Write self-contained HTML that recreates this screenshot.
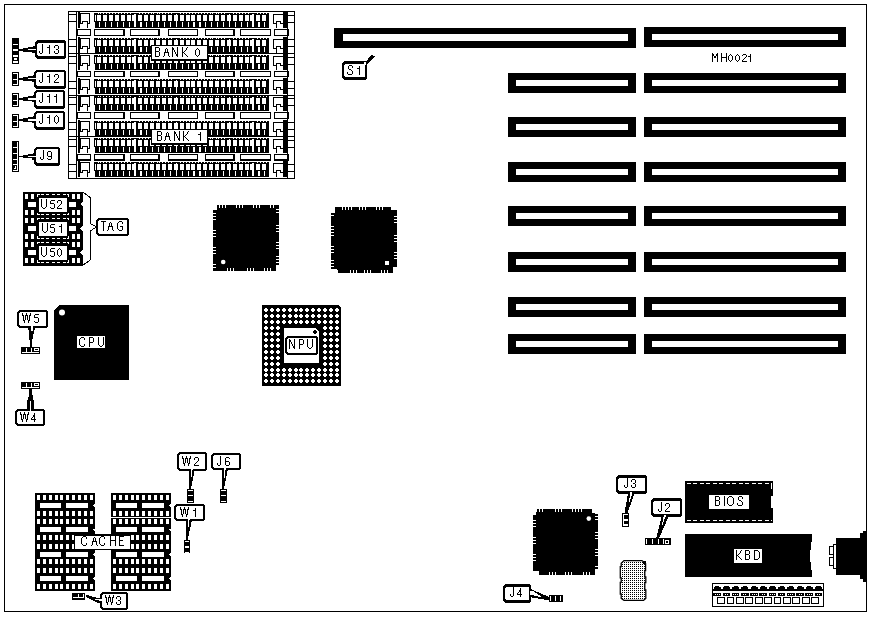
<!DOCTYPE html>
<html><head><meta charset="utf-8"><style>
html,body{margin:0;padding:0;background:#fff;}
svg{display:block;shape-rendering:crispEdges;}
text{font-family:"Liberation Sans",sans-serif;fill:#000;}
</style></head><body>
<svg width="870" height="617" viewBox="0 0 870 617">
<rect x="0" y="0" width="870" height="617" fill="#fff"/>
<rect x="68" y="11" width="227" height="1" fill="#000"/>
<rect x="68" y="178" width="227" height="1" fill="#000"/>
<rect x="68" y="11" width="1" height="168" fill="#000"/>
<rect x="294" y="11" width="1" height="168" fill="#000"/>
<rect x="76" y="11" width="1" height="167" fill="#000"/>
<rect x="287" y="11" width="1" height="167" fill="#000"/>
<rect x="68" y="14" width="8" height="1" fill="#000"/>
<rect x="68" y="21" width="8" height="1" fill="#000"/>
<rect x="68" y="39" width="8" height="1" fill="#000"/>
<rect x="68" y="46" width="8" height="1" fill="#000"/>
<rect x="68" y="53" width="8" height="1" fill="#000"/>
<rect x="287" y="15" width="8" height="1" fill="#000"/>
<rect x="287" y="22" width="8" height="1" fill="#000"/>
<rect x="287" y="39" width="8" height="1" fill="#000"/>
<rect x="287" y="46" width="8" height="1" fill="#000"/>
<rect x="287" y="53" width="8" height="1" fill="#000"/>
<rect x="77" y="53" width="210" height="1" fill="#000"/>
<rect x="78" y="12" width="2.4" height="16" fill="#000"/>
<rect x="283" y="12" width="3.6" height="16" fill="#000"/>
<rect x="80" y="13" width="10" height="1" fill="#000"/>
<rect x="80" y="13" width="1" height="10.5" fill="#000"/>
<rect x="89" y="13" width="1" height="10.5" fill="#000"/>
<rect x="80" y="22.6" width="3" height="1" fill="#000"/>
<rect x="87" y="22.6" width="3" height="1" fill="#000"/>
<rect x="82" y="20.8" width="6" height="1" fill="#000"/>
<rect x="82" y="20.8" width="1" height="2.8" fill="#000"/>
<rect x="87" y="20.8" width="1" height="7" fill="#000"/>
<rect x="273" y="13.8" width="10" height="1" fill="#000"/>
<rect x="273" y="13.8" width="1" height="10" fill="#000"/>
<rect x="273" y="22.8" width="4" height="1" fill="#000"/>
<rect x="276" y="20.8" width="5" height="1" fill="#000"/>
<rect x="276" y="20.8" width="1" height="7" fill="#000"/>
<rect x="280" y="20.8" width="1" height="3" fill="#000"/>
<rect x="280" y="22.8" width="3" height="1" fill="#000"/>
<rect x="94" y="13" width="175" height="14.6" fill="#000"/>
<rect x="97" y="15" width="4" height="6" fill="#fff"/>
<rect x="99" y="22" width="1.2" height="4.5" fill="#fff"/>
<rect x="97.5" y="13" width="1" height="1" fill="#fff"/>
<rect x="100.3" y="13" width="1" height="1" fill="#fff"/>
<rect x="102.9" y="15" width="4" height="6" fill="#fff"/>
<rect x="104.9" y="22" width="1.2" height="4.5" fill="#fff"/>
<rect x="103.4" y="13" width="1" height="1" fill="#fff"/>
<rect x="106.2" y="13" width="1" height="1" fill="#fff"/>
<rect x="108.8" y="15" width="4" height="6" fill="#fff"/>
<rect x="110.8" y="22" width="1.2" height="4.5" fill="#fff"/>
<rect x="109.3" y="13" width="1" height="1" fill="#fff"/>
<rect x="112.1" y="13" width="1" height="1" fill="#fff"/>
<rect x="114.7" y="15" width="4" height="6" fill="#fff"/>
<rect x="116.7" y="22" width="1.2" height="4.5" fill="#fff"/>
<rect x="115.2" y="13" width="1" height="1" fill="#fff"/>
<rect x="118" y="13" width="1" height="1" fill="#fff"/>
<rect x="120.6" y="15" width="4" height="6" fill="#fff"/>
<rect x="122.6" y="22" width="1.2" height="4.5" fill="#fff"/>
<rect x="121.1" y="13" width="1" height="1" fill="#fff"/>
<rect x="123.9" y="13" width="1" height="1" fill="#fff"/>
<rect x="126.5" y="15" width="4" height="6" fill="#fff"/>
<rect x="128.5" y="22" width="1.2" height="4.5" fill="#fff"/>
<rect x="127" y="13" width="1" height="1" fill="#fff"/>
<rect x="129.8" y="13" width="1" height="1" fill="#fff"/>
<rect x="132.4" y="15" width="4" height="6" fill="#fff"/>
<rect x="134.4" y="22" width="1.2" height="4.5" fill="#fff"/>
<rect x="134.4" y="14" width="1.2" height="1" fill="#fff"/>
<rect x="134.4" y="21" width="1.2" height="1" fill="#fff"/>
<rect x="138.3" y="15" width="4" height="6" fill="#fff"/>
<rect x="140.3" y="22" width="1.2" height="4.5" fill="#fff"/>
<rect x="138.8" y="13" width="1" height="1" fill="#fff"/>
<rect x="141.6" y="13" width="1" height="1" fill="#fff"/>
<rect x="144.2" y="15" width="4" height="6" fill="#fff"/>
<rect x="146.2" y="22" width="1.2" height="4.5" fill="#fff"/>
<rect x="144.7" y="13" width="1" height="1" fill="#fff"/>
<rect x="147.5" y="13" width="1" height="1" fill="#fff"/>
<rect x="150.1" y="15" width="4" height="6" fill="#fff"/>
<rect x="152.1" y="22" width="1.2" height="4.5" fill="#fff"/>
<rect x="150.6" y="13" width="1" height="1" fill="#fff"/>
<rect x="153.4" y="13" width="1" height="1" fill="#fff"/>
<rect x="156" y="15" width="4" height="6" fill="#fff"/>
<rect x="158" y="22" width="1.2" height="4.5" fill="#fff"/>
<rect x="156.5" y="13" width="1" height="1" fill="#fff"/>
<rect x="159.3" y="13" width="1" height="1" fill="#fff"/>
<rect x="161.9" y="15" width="4" height="6" fill="#fff"/>
<rect x="163.9" y="22" width="1.2" height="4.5" fill="#fff"/>
<rect x="162.4" y="13" width="1" height="1" fill="#fff"/>
<rect x="165.2" y="13" width="1" height="1" fill="#fff"/>
<rect x="167.8" y="15" width="4" height="6" fill="#fff"/>
<rect x="169.8" y="22" width="1.2" height="4.5" fill="#fff"/>
<rect x="168.3" y="13" width="1" height="1" fill="#fff"/>
<rect x="171.1" y="13" width="1" height="1" fill="#fff"/>
<rect x="173.7" y="15" width="4" height="6" fill="#fff"/>
<rect x="175.7" y="22" width="1.2" height="4.5" fill="#fff"/>
<rect x="175.7" y="14" width="1.2" height="1" fill="#fff"/>
<rect x="175.7" y="21" width="1.2" height="1" fill="#fff"/>
<rect x="179.6" y="15" width="4" height="6" fill="#fff"/>
<rect x="181.6" y="22" width="1.2" height="4.5" fill="#fff"/>
<rect x="180.1" y="13" width="1" height="1" fill="#fff"/>
<rect x="182.9" y="13" width="1" height="1" fill="#fff"/>
<rect x="185.5" y="15" width="4" height="6" fill="#fff"/>
<rect x="187.5" y="22" width="1.2" height="4.5" fill="#fff"/>
<rect x="186" y="13" width="1" height="1" fill="#fff"/>
<rect x="188.8" y="13" width="1" height="1" fill="#fff"/>
<rect x="191.4" y="15" width="4" height="6" fill="#fff"/>
<rect x="193.4" y="22" width="1.2" height="4.5" fill="#fff"/>
<rect x="191.9" y="13" width="1" height="1" fill="#fff"/>
<rect x="194.7" y="13" width="1" height="1" fill="#fff"/>
<rect x="197.3" y="15" width="4" height="6" fill="#fff"/>
<rect x="199.3" y="22" width="1.2" height="4.5" fill="#fff"/>
<rect x="197.8" y="13" width="1" height="1" fill="#fff"/>
<rect x="200.6" y="13" width="1" height="1" fill="#fff"/>
<rect x="203.2" y="15" width="4" height="6" fill="#fff"/>
<rect x="205.2" y="22" width="1.2" height="4.5" fill="#fff"/>
<rect x="203.7" y="13" width="1" height="1" fill="#fff"/>
<rect x="206.5" y="13" width="1" height="1" fill="#fff"/>
<rect x="209.1" y="15" width="4" height="6" fill="#fff"/>
<rect x="211.1" y="22" width="1.2" height="4.5" fill="#fff"/>
<rect x="209.6" y="13" width="1" height="1" fill="#fff"/>
<rect x="212.4" y="13" width="1" height="1" fill="#fff"/>
<rect x="215" y="15" width="4" height="6" fill="#fff"/>
<rect x="217" y="22" width="1.2" height="4.5" fill="#fff"/>
<rect x="215.5" y="13" width="1" height="1" fill="#fff"/>
<rect x="218.3" y="13" width="1" height="1" fill="#fff"/>
<rect x="220.9" y="15" width="4" height="6" fill="#fff"/>
<rect x="222.9" y="22" width="1.2" height="4.5" fill="#fff"/>
<rect x="221.4" y="13" width="1" height="1" fill="#fff"/>
<rect x="224.2" y="13" width="1" height="1" fill="#fff"/>
<rect x="226.8" y="15" width="4" height="6" fill="#fff"/>
<rect x="228.8" y="22" width="1.2" height="4.5" fill="#fff"/>
<rect x="228.8" y="14" width="1.2" height="1" fill="#fff"/>
<rect x="228.8" y="21" width="1.2" height="1" fill="#fff"/>
<rect x="232.7" y="15" width="4" height="6" fill="#fff"/>
<rect x="234.7" y="22" width="1.2" height="4.5" fill="#fff"/>
<rect x="233.2" y="13" width="1" height="1" fill="#fff"/>
<rect x="236" y="13" width="1" height="1" fill="#fff"/>
<rect x="238.6" y="15" width="4" height="6" fill="#fff"/>
<rect x="240.6" y="22" width="1.2" height="4.5" fill="#fff"/>
<rect x="239.1" y="13" width="1" height="1" fill="#fff"/>
<rect x="241.9" y="13" width="1" height="1" fill="#fff"/>
<rect x="244.5" y="15" width="4" height="6" fill="#fff"/>
<rect x="246.5" y="22" width="1.2" height="4.5" fill="#fff"/>
<rect x="245" y="13" width="1" height="1" fill="#fff"/>
<rect x="247.8" y="13" width="1" height="1" fill="#fff"/>
<rect x="250.4" y="15" width="4" height="6" fill="#fff"/>
<rect x="252.4" y="22" width="1.2" height="4.5" fill="#fff"/>
<rect x="252.4" y="14" width="1.2" height="1" fill="#fff"/>
<rect x="252.4" y="21" width="1.2" height="1" fill="#fff"/>
<rect x="256.3" y="15" width="4" height="6" fill="#fff"/>
<rect x="258.3" y="22" width="1.2" height="4.5" fill="#fff"/>
<rect x="256.8" y="13" width="1" height="1" fill="#fff"/>
<rect x="259.6" y="13" width="1" height="1" fill="#fff"/>
<rect x="262.2" y="15" width="4" height="6" fill="#fff"/>
<rect x="264.2" y="22" width="1.2" height="4.5" fill="#fff"/>
<rect x="262.7" y="13" width="1" height="1" fill="#fff"/>
<rect x="265.5" y="13" width="1" height="1" fill="#fff"/>
<rect x="95" y="15" width="1" height="6" fill="#fff"/>
<rect x="94" y="21.6" width="1" height="6" fill="#fff"/>
<rect x="78" y="37" width="2.4" height="16" fill="#000"/>
<rect x="283" y="37" width="3.6" height="16" fill="#000"/>
<rect x="80" y="38" width="10" height="1" fill="#000"/>
<rect x="80" y="38" width="1" height="10.5" fill="#000"/>
<rect x="89" y="38" width="1" height="10.5" fill="#000"/>
<rect x="80" y="47.6" width="3" height="1" fill="#000"/>
<rect x="87" y="47.6" width="3" height="1" fill="#000"/>
<rect x="82" y="45.8" width="6" height="1" fill="#000"/>
<rect x="82" y="45.8" width="1" height="2.8" fill="#000"/>
<rect x="87" y="45.8" width="1" height="7" fill="#000"/>
<rect x="273" y="38.8" width="10" height="1" fill="#000"/>
<rect x="273" y="38.8" width="1" height="10" fill="#000"/>
<rect x="273" y="47.8" width="4" height="1" fill="#000"/>
<rect x="276" y="45.8" width="5" height="1" fill="#000"/>
<rect x="276" y="45.8" width="1" height="7" fill="#000"/>
<rect x="280" y="45.8" width="1" height="3" fill="#000"/>
<rect x="280" y="47.8" width="3" height="1" fill="#000"/>
<rect x="94" y="38" width="175" height="14.6" fill="#000"/>
<rect x="97" y="40" width="4" height="6" fill="#fff"/>
<rect x="99" y="47" width="1.2" height="4.5" fill="#fff"/>
<rect x="97.5" y="38" width="1" height="1" fill="#fff"/>
<rect x="100.3" y="38" width="1" height="1" fill="#fff"/>
<rect x="102.9" y="40" width="4" height="6" fill="#fff"/>
<rect x="104.9" y="47" width="1.2" height="4.5" fill="#fff"/>
<rect x="103.4" y="38" width="1" height="1" fill="#fff"/>
<rect x="106.2" y="38" width="1" height="1" fill="#fff"/>
<rect x="108.8" y="40" width="4" height="6" fill="#fff"/>
<rect x="110.8" y="47" width="1.2" height="4.5" fill="#fff"/>
<rect x="109.3" y="38" width="1" height="1" fill="#fff"/>
<rect x="112.1" y="38" width="1" height="1" fill="#fff"/>
<rect x="114.7" y="40" width="4" height="6" fill="#fff"/>
<rect x="116.7" y="47" width="1.2" height="4.5" fill="#fff"/>
<rect x="115.2" y="38" width="1" height="1" fill="#fff"/>
<rect x="118" y="38" width="1" height="1" fill="#fff"/>
<rect x="120.6" y="40" width="4" height="6" fill="#fff"/>
<rect x="122.6" y="47" width="1.2" height="4.5" fill="#fff"/>
<rect x="121.1" y="38" width="1" height="1" fill="#fff"/>
<rect x="123.9" y="38" width="1" height="1" fill="#fff"/>
<rect x="126.5" y="40" width="4" height="6" fill="#fff"/>
<rect x="128.5" y="47" width="1.2" height="4.5" fill="#fff"/>
<rect x="127" y="38" width="1" height="1" fill="#fff"/>
<rect x="129.8" y="38" width="1" height="1" fill="#fff"/>
<rect x="132.4" y="40" width="4" height="6" fill="#fff"/>
<rect x="134.4" y="47" width="1.2" height="4.5" fill="#fff"/>
<rect x="134.4" y="39" width="1.2" height="1" fill="#fff"/>
<rect x="134.4" y="46" width="1.2" height="1" fill="#fff"/>
<rect x="138.3" y="40" width="4" height="6" fill="#fff"/>
<rect x="140.3" y="47" width="1.2" height="4.5" fill="#fff"/>
<rect x="138.8" y="38" width="1" height="1" fill="#fff"/>
<rect x="141.6" y="38" width="1" height="1" fill="#fff"/>
<rect x="144.2" y="40" width="4" height="6" fill="#fff"/>
<rect x="146.2" y="47" width="1.2" height="4.5" fill="#fff"/>
<rect x="144.7" y="38" width="1" height="1" fill="#fff"/>
<rect x="147.5" y="38" width="1" height="1" fill="#fff"/>
<rect x="150.1" y="40" width="4" height="6" fill="#fff"/>
<rect x="152.1" y="47" width="1.2" height="4.5" fill="#fff"/>
<rect x="150.6" y="38" width="1" height="1" fill="#fff"/>
<rect x="153.4" y="38" width="1" height="1" fill="#fff"/>
<rect x="156" y="40" width="4" height="6" fill="#fff"/>
<rect x="158" y="47" width="1.2" height="4.5" fill="#fff"/>
<rect x="156.5" y="38" width="1" height="1" fill="#fff"/>
<rect x="159.3" y="38" width="1" height="1" fill="#fff"/>
<rect x="161.9" y="40" width="4" height="6" fill="#fff"/>
<rect x="163.9" y="47" width="1.2" height="4.5" fill="#fff"/>
<rect x="162.4" y="38" width="1" height="1" fill="#fff"/>
<rect x="165.2" y="38" width="1" height="1" fill="#fff"/>
<rect x="167.8" y="40" width="4" height="6" fill="#fff"/>
<rect x="169.8" y="47" width="1.2" height="4.5" fill="#fff"/>
<rect x="168.3" y="38" width="1" height="1" fill="#fff"/>
<rect x="171.1" y="38" width="1" height="1" fill="#fff"/>
<rect x="173.7" y="40" width="4" height="6" fill="#fff"/>
<rect x="175.7" y="47" width="1.2" height="4.5" fill="#fff"/>
<rect x="175.7" y="39" width="1.2" height="1" fill="#fff"/>
<rect x="175.7" y="46" width="1.2" height="1" fill="#fff"/>
<rect x="179.6" y="40" width="4" height="6" fill="#fff"/>
<rect x="181.6" y="47" width="1.2" height="4.5" fill="#fff"/>
<rect x="180.1" y="38" width="1" height="1" fill="#fff"/>
<rect x="182.9" y="38" width="1" height="1" fill="#fff"/>
<rect x="185.5" y="40" width="4" height="6" fill="#fff"/>
<rect x="187.5" y="47" width="1.2" height="4.5" fill="#fff"/>
<rect x="186" y="38" width="1" height="1" fill="#fff"/>
<rect x="188.8" y="38" width="1" height="1" fill="#fff"/>
<rect x="191.4" y="40" width="4" height="6" fill="#fff"/>
<rect x="193.4" y="47" width="1.2" height="4.5" fill="#fff"/>
<rect x="191.9" y="38" width="1" height="1" fill="#fff"/>
<rect x="194.7" y="38" width="1" height="1" fill="#fff"/>
<rect x="197.3" y="40" width="4" height="6" fill="#fff"/>
<rect x="199.3" y="47" width="1.2" height="4.5" fill="#fff"/>
<rect x="197.8" y="38" width="1" height="1" fill="#fff"/>
<rect x="200.6" y="38" width="1" height="1" fill="#fff"/>
<rect x="203.2" y="40" width="4" height="6" fill="#fff"/>
<rect x="205.2" y="47" width="1.2" height="4.5" fill="#fff"/>
<rect x="203.7" y="38" width="1" height="1" fill="#fff"/>
<rect x="206.5" y="38" width="1" height="1" fill="#fff"/>
<rect x="209.1" y="40" width="4" height="6" fill="#fff"/>
<rect x="211.1" y="47" width="1.2" height="4.5" fill="#fff"/>
<rect x="209.6" y="38" width="1" height="1" fill="#fff"/>
<rect x="212.4" y="38" width="1" height="1" fill="#fff"/>
<rect x="215" y="40" width="4" height="6" fill="#fff"/>
<rect x="217" y="47" width="1.2" height="4.5" fill="#fff"/>
<rect x="215.5" y="38" width="1" height="1" fill="#fff"/>
<rect x="218.3" y="38" width="1" height="1" fill="#fff"/>
<rect x="220.9" y="40" width="4" height="6" fill="#fff"/>
<rect x="222.9" y="47" width="1.2" height="4.5" fill="#fff"/>
<rect x="221.4" y="38" width="1" height="1" fill="#fff"/>
<rect x="224.2" y="38" width="1" height="1" fill="#fff"/>
<rect x="226.8" y="40" width="4" height="6" fill="#fff"/>
<rect x="228.8" y="47" width="1.2" height="4.5" fill="#fff"/>
<rect x="228.8" y="39" width="1.2" height="1" fill="#fff"/>
<rect x="228.8" y="46" width="1.2" height="1" fill="#fff"/>
<rect x="232.7" y="40" width="4" height="6" fill="#fff"/>
<rect x="234.7" y="47" width="1.2" height="4.5" fill="#fff"/>
<rect x="233.2" y="38" width="1" height="1" fill="#fff"/>
<rect x="236" y="38" width="1" height="1" fill="#fff"/>
<rect x="238.6" y="40" width="4" height="6" fill="#fff"/>
<rect x="240.6" y="47" width="1.2" height="4.5" fill="#fff"/>
<rect x="239.1" y="38" width="1" height="1" fill="#fff"/>
<rect x="241.9" y="38" width="1" height="1" fill="#fff"/>
<rect x="244.5" y="40" width="4" height="6" fill="#fff"/>
<rect x="246.5" y="47" width="1.2" height="4.5" fill="#fff"/>
<rect x="245" y="38" width="1" height="1" fill="#fff"/>
<rect x="247.8" y="38" width="1" height="1" fill="#fff"/>
<rect x="250.4" y="40" width="4" height="6" fill="#fff"/>
<rect x="252.4" y="47" width="1.2" height="4.5" fill="#fff"/>
<rect x="252.4" y="39" width="1.2" height="1" fill="#fff"/>
<rect x="252.4" y="46" width="1.2" height="1" fill="#fff"/>
<rect x="256.3" y="40" width="4" height="6" fill="#fff"/>
<rect x="258.3" y="47" width="1.2" height="4.5" fill="#fff"/>
<rect x="256.8" y="38" width="1" height="1" fill="#fff"/>
<rect x="259.6" y="38" width="1" height="1" fill="#fff"/>
<rect x="262.2" y="40" width="4" height="6" fill="#fff"/>
<rect x="264.2" y="47" width="1.2" height="4.5" fill="#fff"/>
<rect x="262.7" y="38" width="1" height="1" fill="#fff"/>
<rect x="265.5" y="38" width="1" height="1" fill="#fff"/>
<rect x="95" y="40" width="1" height="6" fill="#fff"/>
<rect x="94" y="46.6" width="1" height="6" fill="#fff"/>
<rect x="76.5" y="29" width="14.3" height="6.8" fill="#000"/>
<rect x="77.7" y="30.2" width="11.9" height="4.4" fill="#fff"/>
<rect x="274" y="29" width="14.6" height="6.8" fill="#000"/>
<rect x="275.2" y="30.2" width="12.2" height="4.4" fill="#fff"/>
<rect x="94" y="29" width="30.5" height="6.8" fill="#000"/>
<rect x="95.2" y="30.2" width="28.1" height="4.4" fill="#fff"/>
<rect x="129.5" y="29" width="30" height="6.8" fill="#000"/>
<rect x="130.7" y="30.2" width="27.6" height="4.4" fill="#fff"/>
<rect x="168" y="29" width="30" height="6.8" fill="#000"/>
<rect x="169.2" y="30.2" width="27.6" height="4.4" fill="#fff"/>
<rect x="204.5" y="29" width="30" height="6.8" fill="#000"/>
<rect x="205.7" y="30.2" width="27.6" height="4.4" fill="#fff"/>
<rect x="240" y="29" width="31" height="6.8" fill="#000"/>
<rect x="241.2" y="30.2" width="28.6" height="4.4" fill="#fff"/>
<rect x="68" y="55.6" width="8" height="1" fill="#000"/>
<rect x="68" y="62.6" width="8" height="1" fill="#000"/>
<rect x="68" y="80.6" width="8" height="1" fill="#000"/>
<rect x="68" y="87.6" width="8" height="1" fill="#000"/>
<rect x="68" y="94.6" width="8" height="1" fill="#000"/>
<rect x="287" y="56.6" width="8" height="1" fill="#000"/>
<rect x="287" y="63.6" width="8" height="1" fill="#000"/>
<rect x="287" y="80.6" width="8" height="1" fill="#000"/>
<rect x="287" y="87.6" width="8" height="1" fill="#000"/>
<rect x="287" y="94.6" width="8" height="1" fill="#000"/>
<rect x="77" y="95" width="210" height="1" fill="#000"/>
<rect x="78" y="54" width="2.4" height="16" fill="#000"/>
<rect x="283" y="54" width="3.6" height="16" fill="#000"/>
<rect x="80" y="55" width="10" height="1" fill="#000"/>
<rect x="80" y="55" width="1" height="10.5" fill="#000"/>
<rect x="89" y="55" width="1" height="10.5" fill="#000"/>
<rect x="80" y="64.6" width="3" height="1" fill="#000"/>
<rect x="87" y="64.6" width="3" height="1" fill="#000"/>
<rect x="82" y="62.8" width="6" height="1" fill="#000"/>
<rect x="82" y="62.8" width="1" height="2.8" fill="#000"/>
<rect x="87" y="62.8" width="1" height="7" fill="#000"/>
<rect x="273" y="55.8" width="10" height="1" fill="#000"/>
<rect x="273" y="55.8" width="1" height="10" fill="#000"/>
<rect x="273" y="64.8" width="4" height="1" fill="#000"/>
<rect x="276" y="62.8" width="5" height="1" fill="#000"/>
<rect x="276" y="62.8" width="1" height="7" fill="#000"/>
<rect x="280" y="62.8" width="1" height="3" fill="#000"/>
<rect x="280" y="64.8" width="3" height="1" fill="#000"/>
<rect x="94" y="55" width="175" height="14.6" fill="#000"/>
<rect x="97" y="57" width="4" height="6" fill="#fff"/>
<rect x="99" y="64" width="1.2" height="4.5" fill="#fff"/>
<rect x="97.5" y="55" width="1" height="1" fill="#fff"/>
<rect x="100.3" y="55" width="1" height="1" fill="#fff"/>
<rect x="102.9" y="57" width="4" height="6" fill="#fff"/>
<rect x="104.9" y="64" width="1.2" height="4.5" fill="#fff"/>
<rect x="103.4" y="55" width="1" height="1" fill="#fff"/>
<rect x="106.2" y="55" width="1" height="1" fill="#fff"/>
<rect x="108.8" y="57" width="4" height="6" fill="#fff"/>
<rect x="110.8" y="64" width="1.2" height="4.5" fill="#fff"/>
<rect x="109.3" y="55" width="1" height="1" fill="#fff"/>
<rect x="112.1" y="55" width="1" height="1" fill="#fff"/>
<rect x="114.7" y="57" width="4" height="6" fill="#fff"/>
<rect x="116.7" y="64" width="1.2" height="4.5" fill="#fff"/>
<rect x="115.2" y="55" width="1" height="1" fill="#fff"/>
<rect x="118" y="55" width="1" height="1" fill="#fff"/>
<rect x="120.6" y="57" width="4" height="6" fill="#fff"/>
<rect x="122.6" y="64" width="1.2" height="4.5" fill="#fff"/>
<rect x="121.1" y="55" width="1" height="1" fill="#fff"/>
<rect x="123.9" y="55" width="1" height="1" fill="#fff"/>
<rect x="126.5" y="57" width="4" height="6" fill="#fff"/>
<rect x="128.5" y="64" width="1.2" height="4.5" fill="#fff"/>
<rect x="127" y="55" width="1" height="1" fill="#fff"/>
<rect x="129.8" y="55" width="1" height="1" fill="#fff"/>
<rect x="132.4" y="57" width="4" height="6" fill="#fff"/>
<rect x="134.4" y="64" width="1.2" height="4.5" fill="#fff"/>
<rect x="134.4" y="56" width="1.2" height="1" fill="#fff"/>
<rect x="134.4" y="63" width="1.2" height="1" fill="#fff"/>
<rect x="138.3" y="57" width="4" height="6" fill="#fff"/>
<rect x="140.3" y="64" width="1.2" height="4.5" fill="#fff"/>
<rect x="138.8" y="55" width="1" height="1" fill="#fff"/>
<rect x="141.6" y="55" width="1" height="1" fill="#fff"/>
<rect x="144.2" y="57" width="4" height="6" fill="#fff"/>
<rect x="146.2" y="64" width="1.2" height="4.5" fill="#fff"/>
<rect x="144.7" y="55" width="1" height="1" fill="#fff"/>
<rect x="147.5" y="55" width="1" height="1" fill="#fff"/>
<rect x="150.1" y="57" width="4" height="6" fill="#fff"/>
<rect x="152.1" y="64" width="1.2" height="4.5" fill="#fff"/>
<rect x="150.6" y="55" width="1" height="1" fill="#fff"/>
<rect x="153.4" y="55" width="1" height="1" fill="#fff"/>
<rect x="156" y="57" width="4" height="6" fill="#fff"/>
<rect x="158" y="64" width="1.2" height="4.5" fill="#fff"/>
<rect x="156.5" y="55" width="1" height="1" fill="#fff"/>
<rect x="159.3" y="55" width="1" height="1" fill="#fff"/>
<rect x="161.9" y="57" width="4" height="6" fill="#fff"/>
<rect x="163.9" y="64" width="1.2" height="4.5" fill="#fff"/>
<rect x="162.4" y="55" width="1" height="1" fill="#fff"/>
<rect x="165.2" y="55" width="1" height="1" fill="#fff"/>
<rect x="167.8" y="57" width="4" height="6" fill="#fff"/>
<rect x="169.8" y="64" width="1.2" height="4.5" fill="#fff"/>
<rect x="168.3" y="55" width="1" height="1" fill="#fff"/>
<rect x="171.1" y="55" width="1" height="1" fill="#fff"/>
<rect x="173.7" y="57" width="4" height="6" fill="#fff"/>
<rect x="175.7" y="64" width="1.2" height="4.5" fill="#fff"/>
<rect x="175.7" y="56" width="1.2" height="1" fill="#fff"/>
<rect x="175.7" y="63" width="1.2" height="1" fill="#fff"/>
<rect x="179.6" y="57" width="4" height="6" fill="#fff"/>
<rect x="181.6" y="64" width="1.2" height="4.5" fill="#fff"/>
<rect x="180.1" y="55" width="1" height="1" fill="#fff"/>
<rect x="182.9" y="55" width="1" height="1" fill="#fff"/>
<rect x="185.5" y="57" width="4" height="6" fill="#fff"/>
<rect x="187.5" y="64" width="1.2" height="4.5" fill="#fff"/>
<rect x="186" y="55" width="1" height="1" fill="#fff"/>
<rect x="188.8" y="55" width="1" height="1" fill="#fff"/>
<rect x="191.4" y="57" width="4" height="6" fill="#fff"/>
<rect x="193.4" y="64" width="1.2" height="4.5" fill="#fff"/>
<rect x="191.9" y="55" width="1" height="1" fill="#fff"/>
<rect x="194.7" y="55" width="1" height="1" fill="#fff"/>
<rect x="197.3" y="57" width="4" height="6" fill="#fff"/>
<rect x="199.3" y="64" width="1.2" height="4.5" fill="#fff"/>
<rect x="197.8" y="55" width="1" height="1" fill="#fff"/>
<rect x="200.6" y="55" width="1" height="1" fill="#fff"/>
<rect x="203.2" y="57" width="4" height="6" fill="#fff"/>
<rect x="205.2" y="64" width="1.2" height="4.5" fill="#fff"/>
<rect x="203.7" y="55" width="1" height="1" fill="#fff"/>
<rect x="206.5" y="55" width="1" height="1" fill="#fff"/>
<rect x="209.1" y="57" width="4" height="6" fill="#fff"/>
<rect x="211.1" y="64" width="1.2" height="4.5" fill="#fff"/>
<rect x="209.6" y="55" width="1" height="1" fill="#fff"/>
<rect x="212.4" y="55" width="1" height="1" fill="#fff"/>
<rect x="215" y="57" width="4" height="6" fill="#fff"/>
<rect x="217" y="64" width="1.2" height="4.5" fill="#fff"/>
<rect x="215.5" y="55" width="1" height="1" fill="#fff"/>
<rect x="218.3" y="55" width="1" height="1" fill="#fff"/>
<rect x="220.9" y="57" width="4" height="6" fill="#fff"/>
<rect x="222.9" y="64" width="1.2" height="4.5" fill="#fff"/>
<rect x="221.4" y="55" width="1" height="1" fill="#fff"/>
<rect x="224.2" y="55" width="1" height="1" fill="#fff"/>
<rect x="226.8" y="57" width="4" height="6" fill="#fff"/>
<rect x="228.8" y="64" width="1.2" height="4.5" fill="#fff"/>
<rect x="228.8" y="56" width="1.2" height="1" fill="#fff"/>
<rect x="228.8" y="63" width="1.2" height="1" fill="#fff"/>
<rect x="232.7" y="57" width="4" height="6" fill="#fff"/>
<rect x="234.7" y="64" width="1.2" height="4.5" fill="#fff"/>
<rect x="233.2" y="55" width="1" height="1" fill="#fff"/>
<rect x="236" y="55" width="1" height="1" fill="#fff"/>
<rect x="238.6" y="57" width="4" height="6" fill="#fff"/>
<rect x="240.6" y="64" width="1.2" height="4.5" fill="#fff"/>
<rect x="239.1" y="55" width="1" height="1" fill="#fff"/>
<rect x="241.9" y="55" width="1" height="1" fill="#fff"/>
<rect x="244.5" y="57" width="4" height="6" fill="#fff"/>
<rect x="246.5" y="64" width="1.2" height="4.5" fill="#fff"/>
<rect x="245" y="55" width="1" height="1" fill="#fff"/>
<rect x="247.8" y="55" width="1" height="1" fill="#fff"/>
<rect x="250.4" y="57" width="4" height="6" fill="#fff"/>
<rect x="252.4" y="64" width="1.2" height="4.5" fill="#fff"/>
<rect x="252.4" y="56" width="1.2" height="1" fill="#fff"/>
<rect x="252.4" y="63" width="1.2" height="1" fill="#fff"/>
<rect x="256.3" y="57" width="4" height="6" fill="#fff"/>
<rect x="258.3" y="64" width="1.2" height="4.5" fill="#fff"/>
<rect x="256.8" y="55" width="1" height="1" fill="#fff"/>
<rect x="259.6" y="55" width="1" height="1" fill="#fff"/>
<rect x="262.2" y="57" width="4" height="6" fill="#fff"/>
<rect x="264.2" y="64" width="1.2" height="4.5" fill="#fff"/>
<rect x="262.7" y="55" width="1" height="1" fill="#fff"/>
<rect x="265.5" y="55" width="1" height="1" fill="#fff"/>
<rect x="95" y="57" width="1" height="6" fill="#fff"/>
<rect x="94" y="63.6" width="1" height="6" fill="#fff"/>
<rect x="78" y="78" width="2.4" height="16" fill="#000"/>
<rect x="283" y="78" width="3.6" height="16" fill="#000"/>
<rect x="80" y="79" width="10" height="1" fill="#000"/>
<rect x="80" y="79" width="1" height="10.5" fill="#000"/>
<rect x="89" y="79" width="1" height="10.5" fill="#000"/>
<rect x="80" y="88.6" width="3" height="1" fill="#000"/>
<rect x="87" y="88.6" width="3" height="1" fill="#000"/>
<rect x="82" y="86.8" width="6" height="1" fill="#000"/>
<rect x="82" y="86.8" width="1" height="2.8" fill="#000"/>
<rect x="87" y="86.8" width="1" height="7" fill="#000"/>
<rect x="273" y="79.8" width="10" height="1" fill="#000"/>
<rect x="273" y="79.8" width="1" height="10" fill="#000"/>
<rect x="273" y="88.8" width="4" height="1" fill="#000"/>
<rect x="276" y="86.8" width="5" height="1" fill="#000"/>
<rect x="276" y="86.8" width="1" height="7" fill="#000"/>
<rect x="280" y="86.8" width="1" height="3" fill="#000"/>
<rect x="280" y="88.8" width="3" height="1" fill="#000"/>
<rect x="94" y="79" width="175" height="14.6" fill="#000"/>
<rect x="97" y="81" width="4" height="6" fill="#fff"/>
<rect x="99" y="88" width="1.2" height="4.5" fill="#fff"/>
<rect x="97.5" y="79" width="1" height="1" fill="#fff"/>
<rect x="100.3" y="79" width="1" height="1" fill="#fff"/>
<rect x="102.9" y="81" width="4" height="6" fill="#fff"/>
<rect x="104.9" y="88" width="1.2" height="4.5" fill="#fff"/>
<rect x="103.4" y="79" width="1" height="1" fill="#fff"/>
<rect x="106.2" y="79" width="1" height="1" fill="#fff"/>
<rect x="108.8" y="81" width="4" height="6" fill="#fff"/>
<rect x="110.8" y="88" width="1.2" height="4.5" fill="#fff"/>
<rect x="109.3" y="79" width="1" height="1" fill="#fff"/>
<rect x="112.1" y="79" width="1" height="1" fill="#fff"/>
<rect x="114.7" y="81" width="4" height="6" fill="#fff"/>
<rect x="116.7" y="88" width="1.2" height="4.5" fill="#fff"/>
<rect x="115.2" y="79" width="1" height="1" fill="#fff"/>
<rect x="118" y="79" width="1" height="1" fill="#fff"/>
<rect x="120.6" y="81" width="4" height="6" fill="#fff"/>
<rect x="122.6" y="88" width="1.2" height="4.5" fill="#fff"/>
<rect x="121.1" y="79" width="1" height="1" fill="#fff"/>
<rect x="123.9" y="79" width="1" height="1" fill="#fff"/>
<rect x="126.5" y="81" width="4" height="6" fill="#fff"/>
<rect x="128.5" y="88" width="1.2" height="4.5" fill="#fff"/>
<rect x="127" y="79" width="1" height="1" fill="#fff"/>
<rect x="129.8" y="79" width="1" height="1" fill="#fff"/>
<rect x="132.4" y="81" width="4" height="6" fill="#fff"/>
<rect x="134.4" y="88" width="1.2" height="4.5" fill="#fff"/>
<rect x="134.4" y="80" width="1.2" height="1" fill="#fff"/>
<rect x="134.4" y="87" width="1.2" height="1" fill="#fff"/>
<rect x="138.3" y="81" width="4" height="6" fill="#fff"/>
<rect x="140.3" y="88" width="1.2" height="4.5" fill="#fff"/>
<rect x="138.8" y="79" width="1" height="1" fill="#fff"/>
<rect x="141.6" y="79" width="1" height="1" fill="#fff"/>
<rect x="144.2" y="81" width="4" height="6" fill="#fff"/>
<rect x="146.2" y="88" width="1.2" height="4.5" fill="#fff"/>
<rect x="144.7" y="79" width="1" height="1" fill="#fff"/>
<rect x="147.5" y="79" width="1" height="1" fill="#fff"/>
<rect x="150.1" y="81" width="4" height="6" fill="#fff"/>
<rect x="152.1" y="88" width="1.2" height="4.5" fill="#fff"/>
<rect x="150.6" y="79" width="1" height="1" fill="#fff"/>
<rect x="153.4" y="79" width="1" height="1" fill="#fff"/>
<rect x="156" y="81" width="4" height="6" fill="#fff"/>
<rect x="158" y="88" width="1.2" height="4.5" fill="#fff"/>
<rect x="156.5" y="79" width="1" height="1" fill="#fff"/>
<rect x="159.3" y="79" width="1" height="1" fill="#fff"/>
<rect x="161.9" y="81" width="4" height="6" fill="#fff"/>
<rect x="163.9" y="88" width="1.2" height="4.5" fill="#fff"/>
<rect x="162.4" y="79" width="1" height="1" fill="#fff"/>
<rect x="165.2" y="79" width="1" height="1" fill="#fff"/>
<rect x="167.8" y="81" width="4" height="6" fill="#fff"/>
<rect x="169.8" y="88" width="1.2" height="4.5" fill="#fff"/>
<rect x="168.3" y="79" width="1" height="1" fill="#fff"/>
<rect x="171.1" y="79" width="1" height="1" fill="#fff"/>
<rect x="173.7" y="81" width="4" height="6" fill="#fff"/>
<rect x="175.7" y="88" width="1.2" height="4.5" fill="#fff"/>
<rect x="175.7" y="80" width="1.2" height="1" fill="#fff"/>
<rect x="175.7" y="87" width="1.2" height="1" fill="#fff"/>
<rect x="179.6" y="81" width="4" height="6" fill="#fff"/>
<rect x="181.6" y="88" width="1.2" height="4.5" fill="#fff"/>
<rect x="180.1" y="79" width="1" height="1" fill="#fff"/>
<rect x="182.9" y="79" width="1" height="1" fill="#fff"/>
<rect x="185.5" y="81" width="4" height="6" fill="#fff"/>
<rect x="187.5" y="88" width="1.2" height="4.5" fill="#fff"/>
<rect x="186" y="79" width="1" height="1" fill="#fff"/>
<rect x="188.8" y="79" width="1" height="1" fill="#fff"/>
<rect x="191.4" y="81" width="4" height="6" fill="#fff"/>
<rect x="193.4" y="88" width="1.2" height="4.5" fill="#fff"/>
<rect x="191.9" y="79" width="1" height="1" fill="#fff"/>
<rect x="194.7" y="79" width="1" height="1" fill="#fff"/>
<rect x="197.3" y="81" width="4" height="6" fill="#fff"/>
<rect x="199.3" y="88" width="1.2" height="4.5" fill="#fff"/>
<rect x="197.8" y="79" width="1" height="1" fill="#fff"/>
<rect x="200.6" y="79" width="1" height="1" fill="#fff"/>
<rect x="203.2" y="81" width="4" height="6" fill="#fff"/>
<rect x="205.2" y="88" width="1.2" height="4.5" fill="#fff"/>
<rect x="203.7" y="79" width="1" height="1" fill="#fff"/>
<rect x="206.5" y="79" width="1" height="1" fill="#fff"/>
<rect x="209.1" y="81" width="4" height="6" fill="#fff"/>
<rect x="211.1" y="88" width="1.2" height="4.5" fill="#fff"/>
<rect x="209.6" y="79" width="1" height="1" fill="#fff"/>
<rect x="212.4" y="79" width="1" height="1" fill="#fff"/>
<rect x="215" y="81" width="4" height="6" fill="#fff"/>
<rect x="217" y="88" width="1.2" height="4.5" fill="#fff"/>
<rect x="215.5" y="79" width="1" height="1" fill="#fff"/>
<rect x="218.3" y="79" width="1" height="1" fill="#fff"/>
<rect x="220.9" y="81" width="4" height="6" fill="#fff"/>
<rect x="222.9" y="88" width="1.2" height="4.5" fill="#fff"/>
<rect x="221.4" y="79" width="1" height="1" fill="#fff"/>
<rect x="224.2" y="79" width="1" height="1" fill="#fff"/>
<rect x="226.8" y="81" width="4" height="6" fill="#fff"/>
<rect x="228.8" y="88" width="1.2" height="4.5" fill="#fff"/>
<rect x="228.8" y="80" width="1.2" height="1" fill="#fff"/>
<rect x="228.8" y="87" width="1.2" height="1" fill="#fff"/>
<rect x="232.7" y="81" width="4" height="6" fill="#fff"/>
<rect x="234.7" y="88" width="1.2" height="4.5" fill="#fff"/>
<rect x="233.2" y="79" width="1" height="1" fill="#fff"/>
<rect x="236" y="79" width="1" height="1" fill="#fff"/>
<rect x="238.6" y="81" width="4" height="6" fill="#fff"/>
<rect x="240.6" y="88" width="1.2" height="4.5" fill="#fff"/>
<rect x="239.1" y="79" width="1" height="1" fill="#fff"/>
<rect x="241.9" y="79" width="1" height="1" fill="#fff"/>
<rect x="244.5" y="81" width="4" height="6" fill="#fff"/>
<rect x="246.5" y="88" width="1.2" height="4.5" fill="#fff"/>
<rect x="245" y="79" width="1" height="1" fill="#fff"/>
<rect x="247.8" y="79" width="1" height="1" fill="#fff"/>
<rect x="250.4" y="81" width="4" height="6" fill="#fff"/>
<rect x="252.4" y="88" width="1.2" height="4.5" fill="#fff"/>
<rect x="252.4" y="80" width="1.2" height="1" fill="#fff"/>
<rect x="252.4" y="87" width="1.2" height="1" fill="#fff"/>
<rect x="256.3" y="81" width="4" height="6" fill="#fff"/>
<rect x="258.3" y="88" width="1.2" height="4.5" fill="#fff"/>
<rect x="256.8" y="79" width="1" height="1" fill="#fff"/>
<rect x="259.6" y="79" width="1" height="1" fill="#fff"/>
<rect x="262.2" y="81" width="4" height="6" fill="#fff"/>
<rect x="264.2" y="88" width="1.2" height="4.5" fill="#fff"/>
<rect x="262.7" y="79" width="1" height="1" fill="#fff"/>
<rect x="265.5" y="79" width="1" height="1" fill="#fff"/>
<rect x="95" y="81" width="1" height="6" fill="#fff"/>
<rect x="94" y="87.6" width="1" height="6" fill="#fff"/>
<rect x="76.5" y="70.6" width="14.3" height="6.8" fill="#000"/>
<rect x="77.7" y="71.8" width="11.9" height="4.4" fill="#fff"/>
<rect x="274" y="70.6" width="14.6" height="6.8" fill="#000"/>
<rect x="275.2" y="71.8" width="12.2" height="4.4" fill="#fff"/>
<rect x="94" y="70.6" width="30.5" height="6.8" fill="#000"/>
<rect x="95.2" y="71.8" width="28.1" height="4.4" fill="#fff"/>
<rect x="129.5" y="70.6" width="30" height="6.8" fill="#000"/>
<rect x="130.7" y="71.8" width="27.6" height="4.4" fill="#fff"/>
<rect x="168" y="70.6" width="30" height="6.8" fill="#000"/>
<rect x="169.2" y="71.8" width="27.6" height="4.4" fill="#fff"/>
<rect x="204.5" y="70.6" width="30" height="6.8" fill="#000"/>
<rect x="205.7" y="71.8" width="27.6" height="4.4" fill="#fff"/>
<rect x="240" y="70.6" width="31" height="6.8" fill="#000"/>
<rect x="241.2" y="71.8" width="28.6" height="4.4" fill="#fff"/>
<rect x="68" y="97.2" width="8" height="1" fill="#000"/>
<rect x="68" y="104.2" width="8" height="1" fill="#000"/>
<rect x="68" y="122.2" width="8" height="1" fill="#000"/>
<rect x="68" y="129.2" width="8" height="1" fill="#000"/>
<rect x="68" y="136.2" width="8" height="1" fill="#000"/>
<rect x="287" y="98.2" width="8" height="1" fill="#000"/>
<rect x="287" y="105.2" width="8" height="1" fill="#000"/>
<rect x="287" y="122.2" width="8" height="1" fill="#000"/>
<rect x="287" y="129.2" width="8" height="1" fill="#000"/>
<rect x="287" y="136.2" width="8" height="1" fill="#000"/>
<rect x="77" y="136" width="210" height="1" fill="#000"/>
<rect x="78" y="95" width="2.4" height="16" fill="#000"/>
<rect x="283" y="95" width="3.6" height="16" fill="#000"/>
<rect x="80" y="96" width="10" height="1" fill="#000"/>
<rect x="80" y="96" width="1" height="10.5" fill="#000"/>
<rect x="89" y="96" width="1" height="10.5" fill="#000"/>
<rect x="80" y="105.6" width="3" height="1" fill="#000"/>
<rect x="87" y="105.6" width="3" height="1" fill="#000"/>
<rect x="82" y="103.8" width="6" height="1" fill="#000"/>
<rect x="82" y="103.8" width="1" height="2.8" fill="#000"/>
<rect x="87" y="103.8" width="1" height="7" fill="#000"/>
<rect x="273" y="96.8" width="10" height="1" fill="#000"/>
<rect x="273" y="96.8" width="1" height="10" fill="#000"/>
<rect x="273" y="105.8" width="4" height="1" fill="#000"/>
<rect x="276" y="103.8" width="5" height="1" fill="#000"/>
<rect x="276" y="103.8" width="1" height="7" fill="#000"/>
<rect x="280" y="103.8" width="1" height="3" fill="#000"/>
<rect x="280" y="105.8" width="3" height="1" fill="#000"/>
<rect x="94" y="96" width="175" height="14.6" fill="#000"/>
<rect x="97" y="98" width="4" height="6" fill="#fff"/>
<rect x="99" y="105" width="1.2" height="4.5" fill="#fff"/>
<rect x="97.5" y="96" width="1" height="1" fill="#fff"/>
<rect x="100.3" y="96" width="1" height="1" fill="#fff"/>
<rect x="102.9" y="98" width="4" height="6" fill="#fff"/>
<rect x="104.9" y="105" width="1.2" height="4.5" fill="#fff"/>
<rect x="103.4" y="96" width="1" height="1" fill="#fff"/>
<rect x="106.2" y="96" width="1" height="1" fill="#fff"/>
<rect x="108.8" y="98" width="4" height="6" fill="#fff"/>
<rect x="110.8" y="105" width="1.2" height="4.5" fill="#fff"/>
<rect x="109.3" y="96" width="1" height="1" fill="#fff"/>
<rect x="112.1" y="96" width="1" height="1" fill="#fff"/>
<rect x="114.7" y="98" width="4" height="6" fill="#fff"/>
<rect x="116.7" y="105" width="1.2" height="4.5" fill="#fff"/>
<rect x="115.2" y="96" width="1" height="1" fill="#fff"/>
<rect x="118" y="96" width="1" height="1" fill="#fff"/>
<rect x="120.6" y="98" width="4" height="6" fill="#fff"/>
<rect x="122.6" y="105" width="1.2" height="4.5" fill="#fff"/>
<rect x="121.1" y="96" width="1" height="1" fill="#fff"/>
<rect x="123.9" y="96" width="1" height="1" fill="#fff"/>
<rect x="126.5" y="98" width="4" height="6" fill="#fff"/>
<rect x="128.5" y="105" width="1.2" height="4.5" fill="#fff"/>
<rect x="127" y="96" width="1" height="1" fill="#fff"/>
<rect x="129.8" y="96" width="1" height="1" fill="#fff"/>
<rect x="132.4" y="98" width="4" height="6" fill="#fff"/>
<rect x="134.4" y="105" width="1.2" height="4.5" fill="#fff"/>
<rect x="134.4" y="97" width="1.2" height="1" fill="#fff"/>
<rect x="134.4" y="104" width="1.2" height="1" fill="#fff"/>
<rect x="138.3" y="98" width="4" height="6" fill="#fff"/>
<rect x="140.3" y="105" width="1.2" height="4.5" fill="#fff"/>
<rect x="138.8" y="96" width="1" height="1" fill="#fff"/>
<rect x="141.6" y="96" width="1" height="1" fill="#fff"/>
<rect x="144.2" y="98" width="4" height="6" fill="#fff"/>
<rect x="146.2" y="105" width="1.2" height="4.5" fill="#fff"/>
<rect x="144.7" y="96" width="1" height="1" fill="#fff"/>
<rect x="147.5" y="96" width="1" height="1" fill="#fff"/>
<rect x="150.1" y="98" width="4" height="6" fill="#fff"/>
<rect x="152.1" y="105" width="1.2" height="4.5" fill="#fff"/>
<rect x="150.6" y="96" width="1" height="1" fill="#fff"/>
<rect x="153.4" y="96" width="1" height="1" fill="#fff"/>
<rect x="156" y="98" width="4" height="6" fill="#fff"/>
<rect x="158" y="105" width="1.2" height="4.5" fill="#fff"/>
<rect x="156.5" y="96" width="1" height="1" fill="#fff"/>
<rect x="159.3" y="96" width="1" height="1" fill="#fff"/>
<rect x="161.9" y="98" width="4" height="6" fill="#fff"/>
<rect x="163.9" y="105" width="1.2" height="4.5" fill="#fff"/>
<rect x="162.4" y="96" width="1" height="1" fill="#fff"/>
<rect x="165.2" y="96" width="1" height="1" fill="#fff"/>
<rect x="167.8" y="98" width="4" height="6" fill="#fff"/>
<rect x="169.8" y="105" width="1.2" height="4.5" fill="#fff"/>
<rect x="168.3" y="96" width="1" height="1" fill="#fff"/>
<rect x="171.1" y="96" width="1" height="1" fill="#fff"/>
<rect x="173.7" y="98" width="4" height="6" fill="#fff"/>
<rect x="175.7" y="105" width="1.2" height="4.5" fill="#fff"/>
<rect x="175.7" y="97" width="1.2" height="1" fill="#fff"/>
<rect x="175.7" y="104" width="1.2" height="1" fill="#fff"/>
<rect x="179.6" y="98" width="4" height="6" fill="#fff"/>
<rect x="181.6" y="105" width="1.2" height="4.5" fill="#fff"/>
<rect x="180.1" y="96" width="1" height="1" fill="#fff"/>
<rect x="182.9" y="96" width="1" height="1" fill="#fff"/>
<rect x="185.5" y="98" width="4" height="6" fill="#fff"/>
<rect x="187.5" y="105" width="1.2" height="4.5" fill="#fff"/>
<rect x="186" y="96" width="1" height="1" fill="#fff"/>
<rect x="188.8" y="96" width="1" height="1" fill="#fff"/>
<rect x="191.4" y="98" width="4" height="6" fill="#fff"/>
<rect x="193.4" y="105" width="1.2" height="4.5" fill="#fff"/>
<rect x="191.9" y="96" width="1" height="1" fill="#fff"/>
<rect x="194.7" y="96" width="1" height="1" fill="#fff"/>
<rect x="197.3" y="98" width="4" height="6" fill="#fff"/>
<rect x="199.3" y="105" width="1.2" height="4.5" fill="#fff"/>
<rect x="197.8" y="96" width="1" height="1" fill="#fff"/>
<rect x="200.6" y="96" width="1" height="1" fill="#fff"/>
<rect x="203.2" y="98" width="4" height="6" fill="#fff"/>
<rect x="205.2" y="105" width="1.2" height="4.5" fill="#fff"/>
<rect x="203.7" y="96" width="1" height="1" fill="#fff"/>
<rect x="206.5" y="96" width="1" height="1" fill="#fff"/>
<rect x="209.1" y="98" width="4" height="6" fill="#fff"/>
<rect x="211.1" y="105" width="1.2" height="4.5" fill="#fff"/>
<rect x="209.6" y="96" width="1" height="1" fill="#fff"/>
<rect x="212.4" y="96" width="1" height="1" fill="#fff"/>
<rect x="215" y="98" width="4" height="6" fill="#fff"/>
<rect x="217" y="105" width="1.2" height="4.5" fill="#fff"/>
<rect x="215.5" y="96" width="1" height="1" fill="#fff"/>
<rect x="218.3" y="96" width="1" height="1" fill="#fff"/>
<rect x="220.9" y="98" width="4" height="6" fill="#fff"/>
<rect x="222.9" y="105" width="1.2" height="4.5" fill="#fff"/>
<rect x="221.4" y="96" width="1" height="1" fill="#fff"/>
<rect x="224.2" y="96" width="1" height="1" fill="#fff"/>
<rect x="226.8" y="98" width="4" height="6" fill="#fff"/>
<rect x="228.8" y="105" width="1.2" height="4.5" fill="#fff"/>
<rect x="228.8" y="97" width="1.2" height="1" fill="#fff"/>
<rect x="228.8" y="104" width="1.2" height="1" fill="#fff"/>
<rect x="232.7" y="98" width="4" height="6" fill="#fff"/>
<rect x="234.7" y="105" width="1.2" height="4.5" fill="#fff"/>
<rect x="233.2" y="96" width="1" height="1" fill="#fff"/>
<rect x="236" y="96" width="1" height="1" fill="#fff"/>
<rect x="238.6" y="98" width="4" height="6" fill="#fff"/>
<rect x="240.6" y="105" width="1.2" height="4.5" fill="#fff"/>
<rect x="239.1" y="96" width="1" height="1" fill="#fff"/>
<rect x="241.9" y="96" width="1" height="1" fill="#fff"/>
<rect x="244.5" y="98" width="4" height="6" fill="#fff"/>
<rect x="246.5" y="105" width="1.2" height="4.5" fill="#fff"/>
<rect x="245" y="96" width="1" height="1" fill="#fff"/>
<rect x="247.8" y="96" width="1" height="1" fill="#fff"/>
<rect x="250.4" y="98" width="4" height="6" fill="#fff"/>
<rect x="252.4" y="105" width="1.2" height="4.5" fill="#fff"/>
<rect x="252.4" y="97" width="1.2" height="1" fill="#fff"/>
<rect x="252.4" y="104" width="1.2" height="1" fill="#fff"/>
<rect x="256.3" y="98" width="4" height="6" fill="#fff"/>
<rect x="258.3" y="105" width="1.2" height="4.5" fill="#fff"/>
<rect x="256.8" y="96" width="1" height="1" fill="#fff"/>
<rect x="259.6" y="96" width="1" height="1" fill="#fff"/>
<rect x="262.2" y="98" width="4" height="6" fill="#fff"/>
<rect x="264.2" y="105" width="1.2" height="4.5" fill="#fff"/>
<rect x="262.7" y="96" width="1" height="1" fill="#fff"/>
<rect x="265.5" y="96" width="1" height="1" fill="#fff"/>
<rect x="95" y="98" width="1" height="6" fill="#fff"/>
<rect x="94" y="104.6" width="1" height="6" fill="#fff"/>
<rect x="78" y="120" width="2.4" height="16" fill="#000"/>
<rect x="283" y="120" width="3.6" height="16" fill="#000"/>
<rect x="80" y="121" width="10" height="1" fill="#000"/>
<rect x="80" y="121" width="1" height="10.5" fill="#000"/>
<rect x="89" y="121" width="1" height="10.5" fill="#000"/>
<rect x="80" y="130.6" width="3" height="1" fill="#000"/>
<rect x="87" y="130.6" width="3" height="1" fill="#000"/>
<rect x="82" y="128.8" width="6" height="1" fill="#000"/>
<rect x="82" y="128.8" width="1" height="2.8" fill="#000"/>
<rect x="87" y="128.8" width="1" height="7" fill="#000"/>
<rect x="273" y="121.8" width="10" height="1" fill="#000"/>
<rect x="273" y="121.8" width="1" height="10" fill="#000"/>
<rect x="273" y="130.8" width="4" height="1" fill="#000"/>
<rect x="276" y="128.8" width="5" height="1" fill="#000"/>
<rect x="276" y="128.8" width="1" height="7" fill="#000"/>
<rect x="280" y="128.8" width="1" height="3" fill="#000"/>
<rect x="280" y="130.8" width="3" height="1" fill="#000"/>
<rect x="94" y="121" width="175" height="14.6" fill="#000"/>
<rect x="97" y="123" width="4" height="6" fill="#fff"/>
<rect x="99" y="130" width="1.2" height="4.5" fill="#fff"/>
<rect x="97.5" y="121" width="1" height="1" fill="#fff"/>
<rect x="100.3" y="121" width="1" height="1" fill="#fff"/>
<rect x="102.9" y="123" width="4" height="6" fill="#fff"/>
<rect x="104.9" y="130" width="1.2" height="4.5" fill="#fff"/>
<rect x="103.4" y="121" width="1" height="1" fill="#fff"/>
<rect x="106.2" y="121" width="1" height="1" fill="#fff"/>
<rect x="108.8" y="123" width="4" height="6" fill="#fff"/>
<rect x="110.8" y="130" width="1.2" height="4.5" fill="#fff"/>
<rect x="109.3" y="121" width="1" height="1" fill="#fff"/>
<rect x="112.1" y="121" width="1" height="1" fill="#fff"/>
<rect x="114.7" y="123" width="4" height="6" fill="#fff"/>
<rect x="116.7" y="130" width="1.2" height="4.5" fill="#fff"/>
<rect x="115.2" y="121" width="1" height="1" fill="#fff"/>
<rect x="118" y="121" width="1" height="1" fill="#fff"/>
<rect x="120.6" y="123" width="4" height="6" fill="#fff"/>
<rect x="122.6" y="130" width="1.2" height="4.5" fill="#fff"/>
<rect x="121.1" y="121" width="1" height="1" fill="#fff"/>
<rect x="123.9" y="121" width="1" height="1" fill="#fff"/>
<rect x="126.5" y="123" width="4" height="6" fill="#fff"/>
<rect x="128.5" y="130" width="1.2" height="4.5" fill="#fff"/>
<rect x="127" y="121" width="1" height="1" fill="#fff"/>
<rect x="129.8" y="121" width="1" height="1" fill="#fff"/>
<rect x="132.4" y="123" width="4" height="6" fill="#fff"/>
<rect x="134.4" y="130" width="1.2" height="4.5" fill="#fff"/>
<rect x="134.4" y="122" width="1.2" height="1" fill="#fff"/>
<rect x="134.4" y="129" width="1.2" height="1" fill="#fff"/>
<rect x="138.3" y="123" width="4" height="6" fill="#fff"/>
<rect x="140.3" y="130" width="1.2" height="4.5" fill="#fff"/>
<rect x="138.8" y="121" width="1" height="1" fill="#fff"/>
<rect x="141.6" y="121" width="1" height="1" fill="#fff"/>
<rect x="144.2" y="123" width="4" height="6" fill="#fff"/>
<rect x="146.2" y="130" width="1.2" height="4.5" fill="#fff"/>
<rect x="144.7" y="121" width="1" height="1" fill="#fff"/>
<rect x="147.5" y="121" width="1" height="1" fill="#fff"/>
<rect x="150.1" y="123" width="4" height="6" fill="#fff"/>
<rect x="152.1" y="130" width="1.2" height="4.5" fill="#fff"/>
<rect x="150.6" y="121" width="1" height="1" fill="#fff"/>
<rect x="153.4" y="121" width="1" height="1" fill="#fff"/>
<rect x="156" y="123" width="4" height="6" fill="#fff"/>
<rect x="158" y="130" width="1.2" height="4.5" fill="#fff"/>
<rect x="156.5" y="121" width="1" height="1" fill="#fff"/>
<rect x="159.3" y="121" width="1" height="1" fill="#fff"/>
<rect x="161.9" y="123" width="4" height="6" fill="#fff"/>
<rect x="163.9" y="130" width="1.2" height="4.5" fill="#fff"/>
<rect x="162.4" y="121" width="1" height="1" fill="#fff"/>
<rect x="165.2" y="121" width="1" height="1" fill="#fff"/>
<rect x="167.8" y="123" width="4" height="6" fill="#fff"/>
<rect x="169.8" y="130" width="1.2" height="4.5" fill="#fff"/>
<rect x="168.3" y="121" width="1" height="1" fill="#fff"/>
<rect x="171.1" y="121" width="1" height="1" fill="#fff"/>
<rect x="173.7" y="123" width="4" height="6" fill="#fff"/>
<rect x="175.7" y="130" width="1.2" height="4.5" fill="#fff"/>
<rect x="175.7" y="122" width="1.2" height="1" fill="#fff"/>
<rect x="175.7" y="129" width="1.2" height="1" fill="#fff"/>
<rect x="179.6" y="123" width="4" height="6" fill="#fff"/>
<rect x="181.6" y="130" width="1.2" height="4.5" fill="#fff"/>
<rect x="180.1" y="121" width="1" height="1" fill="#fff"/>
<rect x="182.9" y="121" width="1" height="1" fill="#fff"/>
<rect x="185.5" y="123" width="4" height="6" fill="#fff"/>
<rect x="187.5" y="130" width="1.2" height="4.5" fill="#fff"/>
<rect x="186" y="121" width="1" height="1" fill="#fff"/>
<rect x="188.8" y="121" width="1" height="1" fill="#fff"/>
<rect x="191.4" y="123" width="4" height="6" fill="#fff"/>
<rect x="193.4" y="130" width="1.2" height="4.5" fill="#fff"/>
<rect x="191.9" y="121" width="1" height="1" fill="#fff"/>
<rect x="194.7" y="121" width="1" height="1" fill="#fff"/>
<rect x="197.3" y="123" width="4" height="6" fill="#fff"/>
<rect x="199.3" y="130" width="1.2" height="4.5" fill="#fff"/>
<rect x="197.8" y="121" width="1" height="1" fill="#fff"/>
<rect x="200.6" y="121" width="1" height="1" fill="#fff"/>
<rect x="203.2" y="123" width="4" height="6" fill="#fff"/>
<rect x="205.2" y="130" width="1.2" height="4.5" fill="#fff"/>
<rect x="203.7" y="121" width="1" height="1" fill="#fff"/>
<rect x="206.5" y="121" width="1" height="1" fill="#fff"/>
<rect x="209.1" y="123" width="4" height="6" fill="#fff"/>
<rect x="211.1" y="130" width="1.2" height="4.5" fill="#fff"/>
<rect x="209.6" y="121" width="1" height="1" fill="#fff"/>
<rect x="212.4" y="121" width="1" height="1" fill="#fff"/>
<rect x="215" y="123" width="4" height="6" fill="#fff"/>
<rect x="217" y="130" width="1.2" height="4.5" fill="#fff"/>
<rect x="215.5" y="121" width="1" height="1" fill="#fff"/>
<rect x="218.3" y="121" width="1" height="1" fill="#fff"/>
<rect x="220.9" y="123" width="4" height="6" fill="#fff"/>
<rect x="222.9" y="130" width="1.2" height="4.5" fill="#fff"/>
<rect x="221.4" y="121" width="1" height="1" fill="#fff"/>
<rect x="224.2" y="121" width="1" height="1" fill="#fff"/>
<rect x="226.8" y="123" width="4" height="6" fill="#fff"/>
<rect x="228.8" y="130" width="1.2" height="4.5" fill="#fff"/>
<rect x="228.8" y="122" width="1.2" height="1" fill="#fff"/>
<rect x="228.8" y="129" width="1.2" height="1" fill="#fff"/>
<rect x="232.7" y="123" width="4" height="6" fill="#fff"/>
<rect x="234.7" y="130" width="1.2" height="4.5" fill="#fff"/>
<rect x="233.2" y="121" width="1" height="1" fill="#fff"/>
<rect x="236" y="121" width="1" height="1" fill="#fff"/>
<rect x="238.6" y="123" width="4" height="6" fill="#fff"/>
<rect x="240.6" y="130" width="1.2" height="4.5" fill="#fff"/>
<rect x="239.1" y="121" width="1" height="1" fill="#fff"/>
<rect x="241.9" y="121" width="1" height="1" fill="#fff"/>
<rect x="244.5" y="123" width="4" height="6" fill="#fff"/>
<rect x="246.5" y="130" width="1.2" height="4.5" fill="#fff"/>
<rect x="245" y="121" width="1" height="1" fill="#fff"/>
<rect x="247.8" y="121" width="1" height="1" fill="#fff"/>
<rect x="250.4" y="123" width="4" height="6" fill="#fff"/>
<rect x="252.4" y="130" width="1.2" height="4.5" fill="#fff"/>
<rect x="252.4" y="122" width="1.2" height="1" fill="#fff"/>
<rect x="252.4" y="129" width="1.2" height="1" fill="#fff"/>
<rect x="256.3" y="123" width="4" height="6" fill="#fff"/>
<rect x="258.3" y="130" width="1.2" height="4.5" fill="#fff"/>
<rect x="256.8" y="121" width="1" height="1" fill="#fff"/>
<rect x="259.6" y="121" width="1" height="1" fill="#fff"/>
<rect x="262.2" y="123" width="4" height="6" fill="#fff"/>
<rect x="264.2" y="130" width="1.2" height="4.5" fill="#fff"/>
<rect x="262.7" y="121" width="1" height="1" fill="#fff"/>
<rect x="265.5" y="121" width="1" height="1" fill="#fff"/>
<rect x="95" y="123" width="1" height="6" fill="#fff"/>
<rect x="94" y="129.6" width="1" height="6" fill="#fff"/>
<rect x="76.5" y="112.2" width="14.3" height="6.8" fill="#000"/>
<rect x="77.7" y="113.4" width="11.9" height="4.4" fill="#fff"/>
<rect x="274" y="112.2" width="14.6" height="6.8" fill="#000"/>
<rect x="275.2" y="113.4" width="12.2" height="4.4" fill="#fff"/>
<rect x="94" y="112.2" width="30.5" height="6.8" fill="#000"/>
<rect x="95.2" y="113.4" width="28.1" height="4.4" fill="#fff"/>
<rect x="129.5" y="112.2" width="30" height="6.8" fill="#000"/>
<rect x="130.7" y="113.4" width="27.6" height="4.4" fill="#fff"/>
<rect x="168" y="112.2" width="30" height="6.8" fill="#000"/>
<rect x="169.2" y="113.4" width="27.6" height="4.4" fill="#fff"/>
<rect x="204.5" y="112.2" width="30" height="6.8" fill="#000"/>
<rect x="205.7" y="113.4" width="27.6" height="4.4" fill="#fff"/>
<rect x="240" y="112.2" width="31" height="6.8" fill="#000"/>
<rect x="241.2" y="113.4" width="28.6" height="4.4" fill="#fff"/>
<rect x="68" y="138.8" width="8" height="1" fill="#000"/>
<rect x="68" y="145.8" width="8" height="1" fill="#000"/>
<rect x="68" y="163.8" width="8" height="1" fill="#000"/>
<rect x="68" y="170.8" width="8" height="1" fill="#000"/>
<rect x="68" y="177.8" width="8" height="1" fill="#000"/>
<rect x="287" y="139.8" width="8" height="1" fill="#000"/>
<rect x="287" y="146.8" width="8" height="1" fill="#000"/>
<rect x="287" y="163.8" width="8" height="1" fill="#000"/>
<rect x="287" y="170.8" width="8" height="1" fill="#000"/>
<rect x="287" y="177.8" width="8" height="1" fill="#000"/>
<rect x="78" y="137" width="2.4" height="16" fill="#000"/>
<rect x="283" y="137" width="3.6" height="16" fill="#000"/>
<rect x="80" y="138" width="10" height="1" fill="#000"/>
<rect x="80" y="138" width="1" height="10.5" fill="#000"/>
<rect x="89" y="138" width="1" height="10.5" fill="#000"/>
<rect x="80" y="147.6" width="3" height="1" fill="#000"/>
<rect x="87" y="147.6" width="3" height="1" fill="#000"/>
<rect x="82" y="145.8" width="6" height="1" fill="#000"/>
<rect x="82" y="145.8" width="1" height="2.8" fill="#000"/>
<rect x="87" y="145.8" width="1" height="7" fill="#000"/>
<rect x="273" y="138.8" width="10" height="1" fill="#000"/>
<rect x="273" y="138.8" width="1" height="10" fill="#000"/>
<rect x="273" y="147.8" width="4" height="1" fill="#000"/>
<rect x="276" y="145.8" width="5" height="1" fill="#000"/>
<rect x="276" y="145.8" width="1" height="7" fill="#000"/>
<rect x="280" y="145.8" width="1" height="3" fill="#000"/>
<rect x="280" y="147.8" width="3" height="1" fill="#000"/>
<rect x="94" y="138" width="175" height="14.6" fill="#000"/>
<rect x="97" y="140" width="4" height="6" fill="#fff"/>
<rect x="99" y="147" width="1.2" height="4.5" fill="#fff"/>
<rect x="97.5" y="138" width="1" height="1" fill="#fff"/>
<rect x="100.3" y="138" width="1" height="1" fill="#fff"/>
<rect x="102.9" y="140" width="4" height="6" fill="#fff"/>
<rect x="104.9" y="147" width="1.2" height="4.5" fill="#fff"/>
<rect x="103.4" y="138" width="1" height="1" fill="#fff"/>
<rect x="106.2" y="138" width="1" height="1" fill="#fff"/>
<rect x="108.8" y="140" width="4" height="6" fill="#fff"/>
<rect x="110.8" y="147" width="1.2" height="4.5" fill="#fff"/>
<rect x="109.3" y="138" width="1" height="1" fill="#fff"/>
<rect x="112.1" y="138" width="1" height="1" fill="#fff"/>
<rect x="114.7" y="140" width="4" height="6" fill="#fff"/>
<rect x="116.7" y="147" width="1.2" height="4.5" fill="#fff"/>
<rect x="115.2" y="138" width="1" height="1" fill="#fff"/>
<rect x="118" y="138" width="1" height="1" fill="#fff"/>
<rect x="120.6" y="140" width="4" height="6" fill="#fff"/>
<rect x="122.6" y="147" width="1.2" height="4.5" fill="#fff"/>
<rect x="121.1" y="138" width="1" height="1" fill="#fff"/>
<rect x="123.9" y="138" width="1" height="1" fill="#fff"/>
<rect x="126.5" y="140" width="4" height="6" fill="#fff"/>
<rect x="128.5" y="147" width="1.2" height="4.5" fill="#fff"/>
<rect x="127" y="138" width="1" height="1" fill="#fff"/>
<rect x="129.8" y="138" width="1" height="1" fill="#fff"/>
<rect x="132.4" y="140" width="4" height="6" fill="#fff"/>
<rect x="134.4" y="147" width="1.2" height="4.5" fill="#fff"/>
<rect x="134.4" y="139" width="1.2" height="1" fill="#fff"/>
<rect x="134.4" y="146" width="1.2" height="1" fill="#fff"/>
<rect x="138.3" y="140" width="4" height="6" fill="#fff"/>
<rect x="140.3" y="147" width="1.2" height="4.5" fill="#fff"/>
<rect x="138.8" y="138" width="1" height="1" fill="#fff"/>
<rect x="141.6" y="138" width="1" height="1" fill="#fff"/>
<rect x="144.2" y="140" width="4" height="6" fill="#fff"/>
<rect x="146.2" y="147" width="1.2" height="4.5" fill="#fff"/>
<rect x="144.7" y="138" width="1" height="1" fill="#fff"/>
<rect x="147.5" y="138" width="1" height="1" fill="#fff"/>
<rect x="150.1" y="140" width="4" height="6" fill="#fff"/>
<rect x="152.1" y="147" width="1.2" height="4.5" fill="#fff"/>
<rect x="150.6" y="138" width="1" height="1" fill="#fff"/>
<rect x="153.4" y="138" width="1" height="1" fill="#fff"/>
<rect x="156" y="140" width="4" height="6" fill="#fff"/>
<rect x="158" y="147" width="1.2" height="4.5" fill="#fff"/>
<rect x="156.5" y="138" width="1" height="1" fill="#fff"/>
<rect x="159.3" y="138" width="1" height="1" fill="#fff"/>
<rect x="161.9" y="140" width="4" height="6" fill="#fff"/>
<rect x="163.9" y="147" width="1.2" height="4.5" fill="#fff"/>
<rect x="162.4" y="138" width="1" height="1" fill="#fff"/>
<rect x="165.2" y="138" width="1" height="1" fill="#fff"/>
<rect x="167.8" y="140" width="4" height="6" fill="#fff"/>
<rect x="169.8" y="147" width="1.2" height="4.5" fill="#fff"/>
<rect x="168.3" y="138" width="1" height="1" fill="#fff"/>
<rect x="171.1" y="138" width="1" height="1" fill="#fff"/>
<rect x="173.7" y="140" width="4" height="6" fill="#fff"/>
<rect x="175.7" y="147" width="1.2" height="4.5" fill="#fff"/>
<rect x="175.7" y="139" width="1.2" height="1" fill="#fff"/>
<rect x="175.7" y="146" width="1.2" height="1" fill="#fff"/>
<rect x="179.6" y="140" width="4" height="6" fill="#fff"/>
<rect x="181.6" y="147" width="1.2" height="4.5" fill="#fff"/>
<rect x="180.1" y="138" width="1" height="1" fill="#fff"/>
<rect x="182.9" y="138" width="1" height="1" fill="#fff"/>
<rect x="185.5" y="140" width="4" height="6" fill="#fff"/>
<rect x="187.5" y="147" width="1.2" height="4.5" fill="#fff"/>
<rect x="186" y="138" width="1" height="1" fill="#fff"/>
<rect x="188.8" y="138" width="1" height="1" fill="#fff"/>
<rect x="191.4" y="140" width="4" height="6" fill="#fff"/>
<rect x="193.4" y="147" width="1.2" height="4.5" fill="#fff"/>
<rect x="191.9" y="138" width="1" height="1" fill="#fff"/>
<rect x="194.7" y="138" width="1" height="1" fill="#fff"/>
<rect x="197.3" y="140" width="4" height="6" fill="#fff"/>
<rect x="199.3" y="147" width="1.2" height="4.5" fill="#fff"/>
<rect x="197.8" y="138" width="1" height="1" fill="#fff"/>
<rect x="200.6" y="138" width="1" height="1" fill="#fff"/>
<rect x="203.2" y="140" width="4" height="6" fill="#fff"/>
<rect x="205.2" y="147" width="1.2" height="4.5" fill="#fff"/>
<rect x="203.7" y="138" width="1" height="1" fill="#fff"/>
<rect x="206.5" y="138" width="1" height="1" fill="#fff"/>
<rect x="209.1" y="140" width="4" height="6" fill="#fff"/>
<rect x="211.1" y="147" width="1.2" height="4.5" fill="#fff"/>
<rect x="209.6" y="138" width="1" height="1" fill="#fff"/>
<rect x="212.4" y="138" width="1" height="1" fill="#fff"/>
<rect x="215" y="140" width="4" height="6" fill="#fff"/>
<rect x="217" y="147" width="1.2" height="4.5" fill="#fff"/>
<rect x="215.5" y="138" width="1" height="1" fill="#fff"/>
<rect x="218.3" y="138" width="1" height="1" fill="#fff"/>
<rect x="220.9" y="140" width="4" height="6" fill="#fff"/>
<rect x="222.9" y="147" width="1.2" height="4.5" fill="#fff"/>
<rect x="221.4" y="138" width="1" height="1" fill="#fff"/>
<rect x="224.2" y="138" width="1" height="1" fill="#fff"/>
<rect x="226.8" y="140" width="4" height="6" fill="#fff"/>
<rect x="228.8" y="147" width="1.2" height="4.5" fill="#fff"/>
<rect x="228.8" y="139" width="1.2" height="1" fill="#fff"/>
<rect x="228.8" y="146" width="1.2" height="1" fill="#fff"/>
<rect x="232.7" y="140" width="4" height="6" fill="#fff"/>
<rect x="234.7" y="147" width="1.2" height="4.5" fill="#fff"/>
<rect x="233.2" y="138" width="1" height="1" fill="#fff"/>
<rect x="236" y="138" width="1" height="1" fill="#fff"/>
<rect x="238.6" y="140" width="4" height="6" fill="#fff"/>
<rect x="240.6" y="147" width="1.2" height="4.5" fill="#fff"/>
<rect x="239.1" y="138" width="1" height="1" fill="#fff"/>
<rect x="241.9" y="138" width="1" height="1" fill="#fff"/>
<rect x="244.5" y="140" width="4" height="6" fill="#fff"/>
<rect x="246.5" y="147" width="1.2" height="4.5" fill="#fff"/>
<rect x="245" y="138" width="1" height="1" fill="#fff"/>
<rect x="247.8" y="138" width="1" height="1" fill="#fff"/>
<rect x="250.4" y="140" width="4" height="6" fill="#fff"/>
<rect x="252.4" y="147" width="1.2" height="4.5" fill="#fff"/>
<rect x="252.4" y="139" width="1.2" height="1" fill="#fff"/>
<rect x="252.4" y="146" width="1.2" height="1" fill="#fff"/>
<rect x="256.3" y="140" width="4" height="6" fill="#fff"/>
<rect x="258.3" y="147" width="1.2" height="4.5" fill="#fff"/>
<rect x="256.8" y="138" width="1" height="1" fill="#fff"/>
<rect x="259.6" y="138" width="1" height="1" fill="#fff"/>
<rect x="262.2" y="140" width="4" height="6" fill="#fff"/>
<rect x="264.2" y="147" width="1.2" height="4.5" fill="#fff"/>
<rect x="262.7" y="138" width="1" height="1" fill="#fff"/>
<rect x="265.5" y="138" width="1" height="1" fill="#fff"/>
<rect x="95" y="140" width="1" height="6" fill="#fff"/>
<rect x="94" y="146.6" width="1" height="6" fill="#fff"/>
<rect x="78" y="161" width="2.4" height="16" fill="#000"/>
<rect x="283" y="161" width="3.6" height="16" fill="#000"/>
<rect x="80" y="162" width="10" height="1" fill="#000"/>
<rect x="80" y="162" width="1" height="10.5" fill="#000"/>
<rect x="89" y="162" width="1" height="10.5" fill="#000"/>
<rect x="80" y="171.6" width="3" height="1" fill="#000"/>
<rect x="87" y="171.6" width="3" height="1" fill="#000"/>
<rect x="82" y="169.8" width="6" height="1" fill="#000"/>
<rect x="82" y="169.8" width="1" height="2.8" fill="#000"/>
<rect x="87" y="169.8" width="1" height="7" fill="#000"/>
<rect x="273" y="162.8" width="10" height="1" fill="#000"/>
<rect x="273" y="162.8" width="1" height="10" fill="#000"/>
<rect x="273" y="171.8" width="4" height="1" fill="#000"/>
<rect x="276" y="169.8" width="5" height="1" fill="#000"/>
<rect x="276" y="169.8" width="1" height="7" fill="#000"/>
<rect x="280" y="169.8" width="1" height="3" fill="#000"/>
<rect x="280" y="171.8" width="3" height="1" fill="#000"/>
<rect x="94" y="162" width="175" height="14.6" fill="#000"/>
<rect x="97" y="164" width="4" height="6" fill="#fff"/>
<rect x="99" y="171" width="1.2" height="4.5" fill="#fff"/>
<rect x="97.5" y="162" width="1" height="1" fill="#fff"/>
<rect x="100.3" y="162" width="1" height="1" fill="#fff"/>
<rect x="102.9" y="164" width="4" height="6" fill="#fff"/>
<rect x="104.9" y="171" width="1.2" height="4.5" fill="#fff"/>
<rect x="103.4" y="162" width="1" height="1" fill="#fff"/>
<rect x="106.2" y="162" width="1" height="1" fill="#fff"/>
<rect x="108.8" y="164" width="4" height="6" fill="#fff"/>
<rect x="110.8" y="171" width="1.2" height="4.5" fill="#fff"/>
<rect x="109.3" y="162" width="1" height="1" fill="#fff"/>
<rect x="112.1" y="162" width="1" height="1" fill="#fff"/>
<rect x="114.7" y="164" width="4" height="6" fill="#fff"/>
<rect x="116.7" y="171" width="1.2" height="4.5" fill="#fff"/>
<rect x="115.2" y="162" width="1" height="1" fill="#fff"/>
<rect x="118" y="162" width="1" height="1" fill="#fff"/>
<rect x="120.6" y="164" width="4" height="6" fill="#fff"/>
<rect x="122.6" y="171" width="1.2" height="4.5" fill="#fff"/>
<rect x="121.1" y="162" width="1" height="1" fill="#fff"/>
<rect x="123.9" y="162" width="1" height="1" fill="#fff"/>
<rect x="126.5" y="164" width="4" height="6" fill="#fff"/>
<rect x="128.5" y="171" width="1.2" height="4.5" fill="#fff"/>
<rect x="127" y="162" width="1" height="1" fill="#fff"/>
<rect x="129.8" y="162" width="1" height="1" fill="#fff"/>
<rect x="132.4" y="164" width="4" height="6" fill="#fff"/>
<rect x="134.4" y="171" width="1.2" height="4.5" fill="#fff"/>
<rect x="134.4" y="163" width="1.2" height="1" fill="#fff"/>
<rect x="134.4" y="170" width="1.2" height="1" fill="#fff"/>
<rect x="138.3" y="164" width="4" height="6" fill="#fff"/>
<rect x="140.3" y="171" width="1.2" height="4.5" fill="#fff"/>
<rect x="138.8" y="162" width="1" height="1" fill="#fff"/>
<rect x="141.6" y="162" width="1" height="1" fill="#fff"/>
<rect x="144.2" y="164" width="4" height="6" fill="#fff"/>
<rect x="146.2" y="171" width="1.2" height="4.5" fill="#fff"/>
<rect x="144.7" y="162" width="1" height="1" fill="#fff"/>
<rect x="147.5" y="162" width="1" height="1" fill="#fff"/>
<rect x="150.1" y="164" width="4" height="6" fill="#fff"/>
<rect x="152.1" y="171" width="1.2" height="4.5" fill="#fff"/>
<rect x="150.6" y="162" width="1" height="1" fill="#fff"/>
<rect x="153.4" y="162" width="1" height="1" fill="#fff"/>
<rect x="156" y="164" width="4" height="6" fill="#fff"/>
<rect x="158" y="171" width="1.2" height="4.5" fill="#fff"/>
<rect x="156.5" y="162" width="1" height="1" fill="#fff"/>
<rect x="159.3" y="162" width="1" height="1" fill="#fff"/>
<rect x="161.9" y="164" width="4" height="6" fill="#fff"/>
<rect x="163.9" y="171" width="1.2" height="4.5" fill="#fff"/>
<rect x="162.4" y="162" width="1" height="1" fill="#fff"/>
<rect x="165.2" y="162" width="1" height="1" fill="#fff"/>
<rect x="167.8" y="164" width="4" height="6" fill="#fff"/>
<rect x="169.8" y="171" width="1.2" height="4.5" fill="#fff"/>
<rect x="168.3" y="162" width="1" height="1" fill="#fff"/>
<rect x="171.1" y="162" width="1" height="1" fill="#fff"/>
<rect x="173.7" y="164" width="4" height="6" fill="#fff"/>
<rect x="175.7" y="171" width="1.2" height="4.5" fill="#fff"/>
<rect x="175.7" y="163" width="1.2" height="1" fill="#fff"/>
<rect x="175.7" y="170" width="1.2" height="1" fill="#fff"/>
<rect x="179.6" y="164" width="4" height="6" fill="#fff"/>
<rect x="181.6" y="171" width="1.2" height="4.5" fill="#fff"/>
<rect x="180.1" y="162" width="1" height="1" fill="#fff"/>
<rect x="182.9" y="162" width="1" height="1" fill="#fff"/>
<rect x="185.5" y="164" width="4" height="6" fill="#fff"/>
<rect x="187.5" y="171" width="1.2" height="4.5" fill="#fff"/>
<rect x="186" y="162" width="1" height="1" fill="#fff"/>
<rect x="188.8" y="162" width="1" height="1" fill="#fff"/>
<rect x="191.4" y="164" width="4" height="6" fill="#fff"/>
<rect x="193.4" y="171" width="1.2" height="4.5" fill="#fff"/>
<rect x="191.9" y="162" width="1" height="1" fill="#fff"/>
<rect x="194.7" y="162" width="1" height="1" fill="#fff"/>
<rect x="197.3" y="164" width="4" height="6" fill="#fff"/>
<rect x="199.3" y="171" width="1.2" height="4.5" fill="#fff"/>
<rect x="197.8" y="162" width="1" height="1" fill="#fff"/>
<rect x="200.6" y="162" width="1" height="1" fill="#fff"/>
<rect x="203.2" y="164" width="4" height="6" fill="#fff"/>
<rect x="205.2" y="171" width="1.2" height="4.5" fill="#fff"/>
<rect x="203.7" y="162" width="1" height="1" fill="#fff"/>
<rect x="206.5" y="162" width="1" height="1" fill="#fff"/>
<rect x="209.1" y="164" width="4" height="6" fill="#fff"/>
<rect x="211.1" y="171" width="1.2" height="4.5" fill="#fff"/>
<rect x="209.6" y="162" width="1" height="1" fill="#fff"/>
<rect x="212.4" y="162" width="1" height="1" fill="#fff"/>
<rect x="215" y="164" width="4" height="6" fill="#fff"/>
<rect x="217" y="171" width="1.2" height="4.5" fill="#fff"/>
<rect x="215.5" y="162" width="1" height="1" fill="#fff"/>
<rect x="218.3" y="162" width="1" height="1" fill="#fff"/>
<rect x="220.9" y="164" width="4" height="6" fill="#fff"/>
<rect x="222.9" y="171" width="1.2" height="4.5" fill="#fff"/>
<rect x="221.4" y="162" width="1" height="1" fill="#fff"/>
<rect x="224.2" y="162" width="1" height="1" fill="#fff"/>
<rect x="226.8" y="164" width="4" height="6" fill="#fff"/>
<rect x="228.8" y="171" width="1.2" height="4.5" fill="#fff"/>
<rect x="228.8" y="163" width="1.2" height="1" fill="#fff"/>
<rect x="228.8" y="170" width="1.2" height="1" fill="#fff"/>
<rect x="232.7" y="164" width="4" height="6" fill="#fff"/>
<rect x="234.7" y="171" width="1.2" height="4.5" fill="#fff"/>
<rect x="233.2" y="162" width="1" height="1" fill="#fff"/>
<rect x="236" y="162" width="1" height="1" fill="#fff"/>
<rect x="238.6" y="164" width="4" height="6" fill="#fff"/>
<rect x="240.6" y="171" width="1.2" height="4.5" fill="#fff"/>
<rect x="239.1" y="162" width="1" height="1" fill="#fff"/>
<rect x="241.9" y="162" width="1" height="1" fill="#fff"/>
<rect x="244.5" y="164" width="4" height="6" fill="#fff"/>
<rect x="246.5" y="171" width="1.2" height="4.5" fill="#fff"/>
<rect x="245" y="162" width="1" height="1" fill="#fff"/>
<rect x="247.8" y="162" width="1" height="1" fill="#fff"/>
<rect x="250.4" y="164" width="4" height="6" fill="#fff"/>
<rect x="252.4" y="171" width="1.2" height="4.5" fill="#fff"/>
<rect x="252.4" y="163" width="1.2" height="1" fill="#fff"/>
<rect x="252.4" y="170" width="1.2" height="1" fill="#fff"/>
<rect x="256.3" y="164" width="4" height="6" fill="#fff"/>
<rect x="258.3" y="171" width="1.2" height="4.5" fill="#fff"/>
<rect x="256.8" y="162" width="1" height="1" fill="#fff"/>
<rect x="259.6" y="162" width="1" height="1" fill="#fff"/>
<rect x="262.2" y="164" width="4" height="6" fill="#fff"/>
<rect x="264.2" y="171" width="1.2" height="4.5" fill="#fff"/>
<rect x="262.7" y="162" width="1" height="1" fill="#fff"/>
<rect x="265.5" y="162" width="1" height="1" fill="#fff"/>
<rect x="95" y="164" width="1" height="6" fill="#fff"/>
<rect x="94" y="170.6" width="1" height="6" fill="#fff"/>
<rect x="76.5" y="153.8" width="14.3" height="6.8" fill="#000"/>
<rect x="77.7" y="155" width="11.9" height="4.4" fill="#fff"/>
<rect x="274" y="153.8" width="14.6" height="6.8" fill="#000"/>
<rect x="275.2" y="155" width="12.2" height="4.4" fill="#fff"/>
<rect x="94" y="153.8" width="30.5" height="6.8" fill="#000"/>
<rect x="95.2" y="155" width="28.1" height="4.4" fill="#fff"/>
<rect x="129.5" y="153.8" width="30" height="6.8" fill="#000"/>
<rect x="130.7" y="155" width="27.6" height="4.4" fill="#fff"/>
<rect x="168" y="153.8" width="30" height="6.8" fill="#000"/>
<rect x="169.2" y="155" width="27.6" height="4.4" fill="#fff"/>
<rect x="204.5" y="153.8" width="30" height="6.8" fill="#000"/>
<rect x="205.7" y="155" width="27.6" height="4.4" fill="#fff"/>
<rect x="240" y="153.8" width="31" height="6.8" fill="#000"/>
<rect x="241.2" y="155" width="28.6" height="4.4" fill="#fff"/>
<rect x="150.8" y="45" width="57.4" height="15.5" fill="#000"/>
<rect x="152.2" y="46.4" width="54.6" height="12.7" fill="#fff"/>
<rect x="150.8" y="129" width="57.4" height="15.5" fill="#000"/>
<rect x="152.2" y="130.4" width="54.6" height="12.7" fill="#fff"/>
<rect x="12" y="38" width="7" height="26" fill="#000"/>
<rect x="13" y="44" width="5" height="1.1" fill="#fff"/>
<rect x="13" y="49" width="5" height="2" fill="#fff"/>
<rect x="13" y="55" width="5" height="2" fill="#fff"/>
<rect x="14" y="58" width="3" height="1.8" fill="#fff"/>
<rect x="13" y="61" width="5" height="2" fill="#fff"/>
<rect x="12" y="72" width="7" height="14" fill="#000"/>
<rect x="13" y="73" width="5" height="1" fill="#fff"/>
<rect x="17" y="73" width="1" height="12" fill="#fff"/>
<rect x="13" y="84" width="5" height="1" fill="#fff"/>
<rect x="13" y="79" width="5" height="1" fill="#fff"/>
<rect x="12" y="92.5" width="7" height="14" fill="#000"/>
<rect x="13" y="93.5" width="5" height="1" fill="#fff"/>
<rect x="17" y="93.5" width="1" height="12" fill="#fff"/>
<rect x="13" y="104.5" width="5" height="1" fill="#fff"/>
<rect x="13" y="99.5" width="5" height="1" fill="#fff"/>
<rect x="12" y="113.5" width="7" height="14" fill="#000"/>
<rect x="13" y="114.5" width="5" height="1" fill="#fff"/>
<rect x="17" y="114.5" width="1" height="12" fill="#fff"/>
<rect x="13" y="125.5" width="5" height="1" fill="#fff"/>
<rect x="13" y="120.5" width="5" height="1" fill="#fff"/>
<rect x="12" y="141" width="7" height="31" fill="#000"/>
<rect x="17" y="142" width="1" height="29" fill="#fff"/>
<rect x="13" y="147" width="5" height="1" fill="#fff"/>
<rect x="13" y="153" width="5" height="1" fill="#fff"/>
<rect x="13" y="159" width="5" height="1" fill="#fff"/>
<rect x="13" y="164" width="5" height="1" fill="#fff"/>
<rect x="13" y="170" width="5" height="1" fill="#fff"/>
<rect x="13.6" y="165.5" width="2.6" height="3.8" fill="#fff"/>
<rect x="14.4" y="166.4" width="1" height="1.9" fill="#000"/>
<polygon points="37,40 64,40 66,42 66,57 64,59 37,59 35,57 35,42" fill="#000"/>
<polygon points="38,43 63,43 64,44 64,55 63,56 38,56 37,55 37,44" fill="#fff"/>
<polygon points="36,70 64,70 66,72 66,87 64,89 36,89 34,87 34,72" fill="#000"/>
<polygon points="37,72 63,72 64,73 64,85 63,86 37,86 36,85 36,73" fill="#fff"/>
<polygon points="36,90 63,90 65,92 65,107 63,109 36,109 34,107 34,92" fill="#000"/>
<polygon points="37,92 62,92 63,93 63,105 62,106 37,106 36,105 36,93" fill="#fff"/>
<polygon points="36,111 63,111 65,113 65,128 63,130 36,130 34,128 34,113" fill="#000"/>
<polygon points="37,113 62,113 63,114 63,126 62,127 37,127 36,126 36,114" fill="#fff"/>
<polygon points="36,147 58,147 60,149 60,164 58,166 36,166 34,164 34,149" fill="#000"/>
<polygon points="37,149 57,149 58,150 58,162 57,163 37,163 36,162 36,150" fill="#fff"/>
<polygon points="19,49 23,49 23,48 28,48 28,47 33,47 33,46 36,46 36,53 32,53 32,51.8 28,51.8 23,51.8 23,50.7 19,50.7" fill="#000"/>
<rect x="28" y="49" width="8" height="1.1" fill="#fff"/>
<polygon points="19,78.2 23,78.2 23,77.2 28,77.2 28,76.2 33,76.2 33,75.2 35.5,75.2 35.5,82.2 32,82.2 32,81 28,81 23,81 23,79.9 19,79.9" fill="#000"/>
<rect x="28" y="78.2" width="7.5" height="1.1" fill="#fff"/>
<polygon points="19,98.4 23,98.4 23,97.4 28,97.4 28,96.4 33,96.4 33,95.4 35.5,95.4 35.5,102.4 32,102.4 32,101.2 28,101.2 23,101.2 23,100.1 19,100.1" fill="#000"/>
<rect x="28" y="98.4" width="7.5" height="1.1" fill="#fff"/>
<polygon points="19,119.4 23,119.4 23,118.4 28,118.4 28,117.4 33,117.4 33,116.4 35.5,116.4 35.5,123.4 32,123.4 32,122.2 28,122.2 23,122.2 23,121.1 19,121.1" fill="#000"/>
<rect x="28" y="119.4" width="7.5" height="1.1" fill="#fff"/>
<polygon points="19,155.5 23,155.5 23,154.5 28,154.5 28,153.5 33,153.5 33,152.5 35.5,152.5 35.5,159.5 32,159.5 32,158.3 28,158.3 23,158.3 23,157.2 19,157.2" fill="#000"/>
<rect x="28" y="155.5" width="7.5" height="1.1" fill="#fff"/>
<rect x="4" y="4" width="863" height="1" fill="#000"/>
<rect x="4" y="611" width="863" height="1" fill="#000"/>
<rect x="4" y="4" width="1" height="608" fill="#000"/>
<rect x="866" y="4" width="1" height="608" fill="#000"/>
<rect x="334" y="28" width="302" height="20" fill="#000"/>
<rect x="343" y="34" width="285" height="7" fill="#fff"/>
<rect x="644" y="27" width="202" height="20" fill="#000"/>
<rect x="652" y="34" width="186" height="6" fill="#fff"/>
<rect x="508" y="73" width="128" height="20" fill="#000"/>
<rect x="516" y="80" width="112" height="6" fill="#fff"/>
<rect x="644" y="73" width="202" height="20" fill="#000"/>
<rect x="652" y="80" width="186" height="6" fill="#fff"/>
<rect x="508" y="117" width="128" height="20" fill="#000"/>
<rect x="516" y="124" width="112" height="6" fill="#fff"/>
<rect x="644" y="117" width="202" height="20" fill="#000"/>
<rect x="652" y="124" width="186" height="6" fill="#fff"/>
<rect x="508" y="162" width="128" height="20" fill="#000"/>
<rect x="516" y="169" width="112" height="6" fill="#fff"/>
<rect x="644" y="162" width="202" height="20" fill="#000"/>
<rect x="652" y="169" width="186" height="6" fill="#fff"/>
<rect x="508" y="206" width="128" height="20" fill="#000"/>
<rect x="516" y="213" width="112" height="6" fill="#fff"/>
<rect x="644" y="206" width="202" height="20" fill="#000"/>
<rect x="652" y="213" width="186" height="6" fill="#fff"/>
<rect x="508" y="252" width="128" height="20" fill="#000"/>
<rect x="516" y="259" width="112" height="6" fill="#fff"/>
<rect x="644" y="252" width="202" height="20" fill="#000"/>
<rect x="652" y="259" width="186" height="6" fill="#fff"/>
<rect x="508" y="297" width="128" height="20" fill="#000"/>
<rect x="516" y="304" width="112" height="6" fill="#fff"/>
<rect x="644" y="297" width="202" height="20" fill="#000"/>
<rect x="652" y="304" width="186" height="6" fill="#fff"/>
<rect x="508" y="334" width="128" height="20" fill="#000"/>
<rect x="516" y="341" width="112" height="6" fill="#fff"/>
<rect x="644" y="334" width="202" height="20" fill="#000"/>
<rect x="652" y="341" width="186" height="6" fill="#fff"/>
<polygon points="344,61 365,61 367,63 367,78 365,80 344,80 342,78 342,63" fill="#000"/>
<polygon points="345,64 364,64 365,65 365,76 364,77 345,77 344,76 344,65" fill="#fff"/>
<polygon points="364,64 371.5,54.5 374.5,56.5 367,65" fill="#000"/>
<rect x="363.5" y="62" width="2.5" height="3" fill="#fff"/>
<rect x="23" y="192" width="60" height="73.5" fill="#000"/>
<rect x="25" y="194" width="3" height="4.8" fill="#fff"/>
<rect x="31" y="194" width="3" height="4.8" fill="#fff"/>
<rect x="72" y="194" width="3" height="4.8" fill="#fff"/>
<rect x="77" y="194" width="3" height="4.8" fill="#fff"/>
<rect x="25" y="210" width="3" height="5" fill="#fff"/>
<rect x="31" y="210" width="3" height="5" fill="#fff"/>
<rect x="72" y="210" width="3" height="5" fill="#fff"/>
<rect x="77" y="210" width="3" height="5" fill="#fff"/>
<rect x="28" y="202" width="8" height="5" fill="#fff"/>
<rect x="69" y="202" width="7.3" height="5" fill="#fff"/>
<polygon points="83.5,200.5 80.3,204.2 83.5,207.5" fill="#fff"/>
<rect x="25" y="218.1" width="3" height="4.8" fill="#fff"/>
<rect x="31" y="218.1" width="3" height="4.8" fill="#fff"/>
<rect x="72" y="218.1" width="3" height="4.8" fill="#fff"/>
<rect x="77" y="218.1" width="3" height="4.8" fill="#fff"/>
<rect x="25" y="234.1" width="3" height="5" fill="#fff"/>
<rect x="31" y="234.1" width="3" height="5" fill="#fff"/>
<rect x="72" y="234.1" width="3" height="5" fill="#fff"/>
<rect x="77" y="234.1" width="3" height="5" fill="#fff"/>
<rect x="28" y="226.1" width="8" height="5" fill="#fff"/>
<rect x="69" y="226.1" width="7.3" height="5" fill="#fff"/>
<polygon points="83.5,224.6 80.3,228.3 83.5,231.6" fill="#fff"/>
<rect x="25" y="242.2" width="3" height="4.8" fill="#fff"/>
<rect x="31" y="242.2" width="3" height="4.8" fill="#fff"/>
<rect x="72" y="242.2" width="3" height="4.8" fill="#fff"/>
<rect x="77" y="242.2" width="3" height="4.8" fill="#fff"/>
<rect x="25" y="258.2" width="3" height="5" fill="#fff"/>
<rect x="31" y="258.2" width="3" height="5" fill="#fff"/>
<rect x="72" y="258.2" width="3" height="5" fill="#fff"/>
<rect x="77" y="258.2" width="3" height="5" fill="#fff"/>
<rect x="28" y="250.2" width="8" height="5" fill="#fff"/>
<rect x="69" y="250.2" width="7.3" height="5" fill="#fff"/>
<polygon points="83.5,248.7 80.3,252.4 83.5,255.7" fill="#fff"/>
<line x1="40.5" y1="194.5" x2="67" y2="194.5" stroke="#fff" stroke-width="1" stroke-dasharray="3,2.5"/>
<line x1="40.5" y1="214.5" x2="67" y2="214.5" stroke="#fff" stroke-width="1" stroke-dasharray="3,2.5"/>
<rect x="37" y="194" width="3" height="1" fill="#fff"/>
<rect x="37" y="194" width="1" height="2.5" fill="#fff"/>
<rect x="67" y="194" width="2" height="1" fill="#fff"/>
<rect x="68" y="194" width="1" height="2.5" fill="#fff"/>
<rect x="37" y="214" width="3" height="1" fill="#fff"/>
<rect x="37" y="212.5" width="1" height="2.5" fill="#fff"/>
<rect x="67" y="214" width="2" height="1" fill="#fff"/>
<rect x="68" y="212.5" width="1" height="2.5" fill="#fff"/>
<rect x="38.7" y="198" width="28.3" height="14.2" fill="#fff"/>
<line x1="40.5" y1="218.3" x2="67" y2="218.3" stroke="#fff" stroke-width="1" stroke-dasharray="3,2.5"/>
<line x1="40.5" y1="238.3" x2="67" y2="238.3" stroke="#fff" stroke-width="1" stroke-dasharray="3,2.5"/>
<rect x="37" y="217.8" width="3" height="1" fill="#fff"/>
<rect x="37" y="217.8" width="1" height="2.5" fill="#fff"/>
<rect x="67" y="217.8" width="2" height="1" fill="#fff"/>
<rect x="68" y="217.8" width="1" height="2.5" fill="#fff"/>
<rect x="37" y="237.8" width="3" height="1" fill="#fff"/>
<rect x="37" y="236.3" width="1" height="2.5" fill="#fff"/>
<rect x="67" y="237.8" width="2" height="1" fill="#fff"/>
<rect x="68" y="236.3" width="1" height="2.5" fill="#fff"/>
<rect x="38.7" y="221.8" width="28.3" height="14.2" fill="#fff"/>
<line x1="40.5" y1="242.1" x2="67" y2="242.1" stroke="#fff" stroke-width="1" stroke-dasharray="3,2.5"/>
<line x1="40.5" y1="262.1" x2="67" y2="262.1" stroke="#fff" stroke-width="1" stroke-dasharray="3,2.5"/>
<rect x="37" y="241.6" width="3" height="1" fill="#fff"/>
<rect x="37" y="241.6" width="1" height="2.5" fill="#fff"/>
<rect x="67" y="241.6" width="2" height="1" fill="#fff"/>
<rect x="68" y="241.6" width="1" height="2.5" fill="#fff"/>
<rect x="37" y="261.6" width="3" height="1" fill="#fff"/>
<rect x="37" y="260.1" width="1" height="2.5" fill="#fff"/>
<rect x="67" y="261.6" width="2" height="1" fill="#fff"/>
<rect x="68" y="260.1" width="1" height="2.5" fill="#fff"/>
<rect x="38.7" y="245.6" width="28.3" height="14.2" fill="#fff"/>
<polyline points="83.3,192.5 90.2,197.4 90.2,223.6 96.5,227 90.2,231 90.2,260 83.3,265" fill="none" stroke="#000" stroke-width="1"/>
<polygon points="98,218 127,218 129,220 129,234 127,236 98,236 96,234 96,220" fill="#000"/>
<polygon points="99,220 126,220 127,221 127,233 126,234 99,234 98,233 98,221" fill="#fff"/>
<polygon points="217,205 279,205 279,205 279,205 279,265 276,265 276,271 213,271 213,271 213,271 213,210 217,210" fill="#000"/>
<rect x="219" y="205" width="1" height="3" fill="#fff"/>
<rect x="222" y="205" width="1" height="3" fill="#fff"/>
<rect x="225" y="205" width="1" height="3" fill="#fff"/>
<rect x="236" y="205" width="1" height="3" fill="#fff"/>
<rect x="239" y="205" width="1" height="3" fill="#fff"/>
<rect x="242" y="205" width="1" height="3" fill="#fff"/>
<rect x="253" y="205" width="1" height="3" fill="#fff"/>
<rect x="256" y="205" width="1" height="3" fill="#fff"/>
<rect x="259" y="205" width="1" height="3" fill="#fff"/>
<rect x="270" y="205" width="1" height="3" fill="#fff"/>
<rect x="273" y="205" width="1" height="3" fill="#fff"/>
<rect x="227" y="268" width="1" height="3" fill="#fff"/>
<rect x="230" y="268" width="1" height="3" fill="#fff"/>
<rect x="233" y="268" width="1" height="3" fill="#fff"/>
<rect x="247" y="268" width="1" height="3" fill="#fff"/>
<rect x="250" y="268" width="1" height="3" fill="#fff"/>
<rect x="253" y="268" width="1" height="3" fill="#fff"/>
<rect x="264" y="268" width="1" height="3" fill="#fff"/>
<rect x="267" y="268" width="1" height="3" fill="#fff"/>
<rect x="270" y="268" width="1" height="3" fill="#fff"/>
<rect x="213" y="213" width="3" height="1" fill="#fff"/>
<rect x="213" y="216" width="3" height="1" fill="#fff"/>
<rect x="213" y="219" width="3" height="1" fill="#fff"/>
<rect x="213" y="230" width="3" height="1" fill="#fff"/>
<rect x="213" y="233" width="3" height="1" fill="#fff"/>
<rect x="213" y="236" width="3" height="1" fill="#fff"/>
<rect x="213" y="247" width="3" height="1" fill="#fff"/>
<rect x="213" y="250" width="3" height="1" fill="#fff"/>
<rect x="213" y="253" width="3" height="1" fill="#fff"/>
<rect x="213" y="264" width="3" height="1" fill="#fff"/>
<rect x="213" y="267" width="3" height="1" fill="#fff"/>
<rect x="276" y="209" width="3" height="1" fill="#fff"/>
<rect x="276" y="212" width="3" height="1" fill="#fff"/>
<rect x="276" y="225" width="3" height="1" fill="#fff"/>
<rect x="276" y="228" width="3" height="1" fill="#fff"/>
<rect x="276" y="231" width="3" height="1" fill="#fff"/>
<rect x="276" y="242" width="3" height="1" fill="#fff"/>
<rect x="276" y="245" width="3" height="1" fill="#fff"/>
<rect x="276" y="248" width="3" height="1" fill="#fff"/>
<rect x="276" y="256" width="3" height="1" fill="#fff"/>
<rect x="276" y="259" width="3" height="1" fill="#fff"/>
<rect x="276" y="262" width="3" height="1" fill="#fff"/>
<circle cx="223.2" cy="262" r="2.3" fill="#fff" style="shape-rendering:auto"/>
<polygon points="335,207 391,207 391,210 397,210 397,267 393,267 393,273 337,273 337,269 331,269 331,213 335,213" fill="#000"/>
<rect x="342" y="207" width="1" height="3" fill="#fff"/>
<rect x="345" y="207" width="1" height="3" fill="#fff"/>
<rect x="348" y="207" width="1" height="3" fill="#fff"/>
<rect x="351" y="207" width="1" height="3" fill="#fff"/>
<rect x="359" y="207" width="1" height="3" fill="#fff"/>
<rect x="362" y="207" width="1" height="3" fill="#fff"/>
<rect x="365" y="207" width="1" height="3" fill="#fff"/>
<rect x="376" y="207" width="1" height="3" fill="#fff"/>
<rect x="379" y="207" width="1" height="3" fill="#fff"/>
<rect x="382" y="207" width="1" height="3" fill="#fff"/>
<rect x="337" y="270" width="1" height="3" fill="#fff"/>
<rect x="350" y="270" width="1" height="3" fill="#fff"/>
<rect x="353" y="270" width="1" height="3" fill="#fff"/>
<rect x="356" y="270" width="1" height="3" fill="#fff"/>
<rect x="364" y="270" width="1" height="3" fill="#fff"/>
<rect x="367" y="270" width="1" height="3" fill="#fff"/>
<rect x="370" y="270" width="1" height="3" fill="#fff"/>
<rect x="381" y="270" width="1" height="3" fill="#fff"/>
<rect x="384" y="270" width="1" height="3" fill="#fff"/>
<rect x="387" y="270" width="1" height="3" fill="#fff"/>
<rect x="331" y="215" width="3" height="1" fill="#fff"/>
<rect x="331" y="226" width="3" height="1" fill="#fff"/>
<rect x="331" y="229" width="3" height="1" fill="#fff"/>
<rect x="331" y="232" width="3" height="1" fill="#fff"/>
<rect x="331" y="235" width="3" height="1" fill="#fff"/>
<rect x="331" y="246" width="3" height="1" fill="#fff"/>
<rect x="331" y="249" width="3" height="1" fill="#fff"/>
<rect x="331" y="252" width="3" height="1" fill="#fff"/>
<rect x="331" y="260" width="3" height="1" fill="#fff"/>
<rect x="331" y="263" width="3" height="1" fill="#fff"/>
<rect x="331" y="266" width="3" height="1" fill="#fff"/>
<rect x="394" y="216" width="3" height="1" fill="#fff"/>
<rect x="394" y="219" width="3" height="1" fill="#fff"/>
<rect x="394" y="222" width="3" height="1" fill="#fff"/>
<rect x="394" y="235" width="3" height="1" fill="#fff"/>
<rect x="394" y="238" width="3" height="1" fill="#fff"/>
<rect x="394" y="241" width="3" height="1" fill="#fff"/>
<rect x="394" y="252" width="3" height="1" fill="#fff"/>
<rect x="394" y="255" width="3" height="1" fill="#fff"/>
<rect x="394" y="258" width="3" height="1" fill="#fff"/>
<rect x="385" y="261" width="4" height="4" fill="#fff"/>
<polygon points="536,509 592,509 592,513 598,513 598,569 595,569 595,575 539,575 539,571 533,571 533,515 536,515" fill="#000"/>
<rect x="536" y="509" width="1" height="3" fill="#fff"/>
<rect x="539" y="509" width="1" height="3" fill="#fff"/>
<rect x="542" y="509" width="1" height="3" fill="#fff"/>
<rect x="555" y="509" width="1" height="3" fill="#fff"/>
<rect x="558" y="509" width="1" height="3" fill="#fff"/>
<rect x="561" y="509" width="1" height="3" fill="#fff"/>
<rect x="572" y="509" width="1" height="3" fill="#fff"/>
<rect x="575" y="509" width="1" height="3" fill="#fff"/>
<rect x="578" y="509" width="1" height="3" fill="#fff"/>
<rect x="581" y="509" width="1" height="3" fill="#fff"/>
<rect x="549" y="572" width="1" height="3" fill="#fff"/>
<rect x="552" y="572" width="1" height="3" fill="#fff"/>
<rect x="555" y="572" width="1" height="3" fill="#fff"/>
<rect x="565" y="572" width="1" height="3" fill="#fff"/>
<rect x="568" y="572" width="1" height="3" fill="#fff"/>
<rect x="571" y="572" width="1" height="3" fill="#fff"/>
<rect x="583" y="572" width="1" height="3" fill="#fff"/>
<rect x="586" y="572" width="1" height="3" fill="#fff"/>
<rect x="589" y="572" width="1" height="3" fill="#fff"/>
<rect x="533" y="520" width="3" height="1" fill="#fff"/>
<rect x="533" y="523" width="3" height="1" fill="#fff"/>
<rect x="533" y="526" width="3" height="1" fill="#fff"/>
<rect x="533" y="537" width="3" height="1" fill="#fff"/>
<rect x="533" y="540" width="3" height="1" fill="#fff"/>
<rect x="533" y="543" width="3" height="1" fill="#fff"/>
<rect x="533" y="554" width="3" height="1" fill="#fff"/>
<rect x="533" y="557" width="3" height="1" fill="#fff"/>
<rect x="533" y="560" width="3" height="1" fill="#fff"/>
<rect x="595" y="513" width="3" height="1" fill="#fff"/>
<rect x="595" y="516" width="3" height="1" fill="#fff"/>
<rect x="595" y="519" width="3" height="1" fill="#fff"/>
<rect x="595" y="532" width="3" height="1" fill="#fff"/>
<rect x="595" y="535" width="3" height="1" fill="#fff"/>
<rect x="595" y="538" width="3" height="1" fill="#fff"/>
<rect x="595" y="549" width="3" height="1" fill="#fff"/>
<rect x="595" y="552" width="3" height="1" fill="#fff"/>
<rect x="595" y="555" width="3" height="1" fill="#fff"/>
<rect x="595" y="566" width="3" height="1" fill="#fff"/>
<rect x="595" y="569" width="3" height="1" fill="#fff"/>
<circle cx="588.8" cy="518.6" r="2.3" fill="#fff" style="shape-rendering:auto"/>
<polygon points="59,305 129.3,305 129.3,380 54,380 54,310" fill="#000"/>
<circle cx="62" cy="312.5" r="3" fill="#fff" style="shape-rendering:auto"/>
<rect x="76.7" y="335.5" width="28.5" height="12.7" fill="#fff"/>
<polygon points="19,310 46,310 48,312 48,326 46,328 19,328 17,326 17,312" fill="#000"/>
<polygon points="20,312 45,312 46,313 46,325 45,326 20,326 19,325 19,313" fill="#fff"/>
<polygon points="28,326 35,326 34.5,330 33,336 32,342 31.8,347 30,347 29.5,340 29,333" fill="#000"/>
<polygon points="31,325 33,325 32.6,331 31.4,331" fill="#fff"/>
<rect x="21" y="347" width="19" height="7" fill="#000"/>
<rect x="22" y="352" width="17" height="1" fill="#fff"/>
<rect x="26" y="348" width="1" height="4" fill="#fff"/>
<rect x="31" y="348" width="1" height="4" fill="#fff"/>
<rect x="34" y="348" width="4.5" height="3" fill="#fff"/>
<rect x="35" y="349" width="2.5" height="1" fill="#000"/>
<rect x="21" y="382" width="19" height="7" fill="#000"/>
<rect x="22" y="387" width="17" height="1" fill="#fff"/>
<rect x="26" y="383" width="1" height="4" fill="#fff"/>
<rect x="31" y="383" width="1" height="4" fill="#fff"/>
<rect x="34" y="383" width="4.5" height="3" fill="#fff"/>
<rect x="35" y="384" width="2.5" height="1" fill="#000"/>
<polygon points="17,409 43,409 45,411 45,424 43,426 17,426 15,424 15,411" fill="#000"/>
<polygon points="18,411 42,411 43,412 43,423 42,424 18,424 17,423 17,412" fill="#fff"/>
<polygon points="29.5,389 31.8,389 32.5,395 33.6,400 34,410 27,410 27.5,400 29,395" fill="#000"/>
<polygon points="29.8,401 31.2,401 31.4,411 29.6,411" fill="#fff"/>
<polygon points="262,305 338,305 341.2,308.2 341.2,386 262,386" fill="#000"/>
<rect x="264" y="309" width="4" height="2" fill="#fff"/>
<rect x="265" y="308" width="2" height="4" fill="#fff"/>
<rect x="270" y="309" width="4" height="2" fill="#fff"/>
<rect x="271" y="308" width="2" height="4" fill="#fff"/>
<rect x="276" y="309" width="4" height="2" fill="#fff"/>
<rect x="277" y="308" width="2" height="4" fill="#fff"/>
<rect x="282" y="309" width="4" height="2" fill="#fff"/>
<rect x="283" y="308" width="2" height="4" fill="#fff"/>
<rect x="288" y="309" width="4" height="2" fill="#fff"/>
<rect x="289" y="308" width="2" height="4" fill="#fff"/>
<rect x="294" y="309" width="4" height="2" fill="#fff"/>
<rect x="295" y="308" width="2" height="4" fill="#fff"/>
<rect x="299" y="309" width="4" height="2" fill="#fff"/>
<rect x="300" y="308" width="2" height="4" fill="#fff"/>
<rect x="305" y="309" width="4" height="2" fill="#fff"/>
<rect x="306" y="308" width="2" height="4" fill="#fff"/>
<rect x="311" y="309" width="4" height="2" fill="#fff"/>
<rect x="312" y="308" width="2" height="4" fill="#fff"/>
<rect x="317" y="309" width="4" height="2" fill="#fff"/>
<rect x="318" y="308" width="2" height="4" fill="#fff"/>
<rect x="323" y="309" width="4" height="2" fill="#fff"/>
<rect x="324" y="308" width="2" height="4" fill="#fff"/>
<rect x="329" y="309" width="4" height="2" fill="#fff"/>
<rect x="330" y="308" width="2" height="4" fill="#fff"/>
<rect x="335" y="309" width="4" height="2" fill="#fff"/>
<rect x="336" y="308" width="2" height="4" fill="#fff"/>
<rect x="264" y="315" width="4" height="2" fill="#fff"/>
<rect x="265" y="314" width="2" height="4" fill="#fff"/>
<rect x="270" y="315" width="4" height="2" fill="#fff"/>
<rect x="271" y="314" width="2" height="4" fill="#fff"/>
<rect x="276" y="315" width="4" height="2" fill="#fff"/>
<rect x="277" y="314" width="2" height="4" fill="#fff"/>
<rect x="282" y="315" width="4" height="2" fill="#fff"/>
<rect x="283" y="314" width="2" height="4" fill="#fff"/>
<rect x="288" y="315" width="4" height="2" fill="#fff"/>
<rect x="289" y="314" width="2" height="4" fill="#fff"/>
<rect x="294" y="315" width="4" height="2" fill="#fff"/>
<rect x="295" y="314" width="2" height="4" fill="#fff"/>
<rect x="299" y="315" width="4" height="2" fill="#fff"/>
<rect x="300" y="314" width="2" height="4" fill="#fff"/>
<rect x="305" y="315" width="4" height="2" fill="#fff"/>
<rect x="306" y="314" width="2" height="4" fill="#fff"/>
<rect x="311" y="315" width="4" height="2" fill="#fff"/>
<rect x="312" y="314" width="2" height="4" fill="#fff"/>
<rect x="317" y="315" width="4" height="2" fill="#fff"/>
<rect x="318" y="314" width="2" height="4" fill="#fff"/>
<rect x="323" y="315" width="4" height="2" fill="#fff"/>
<rect x="324" y="314" width="2" height="4" fill="#fff"/>
<rect x="329" y="315" width="4" height="2" fill="#fff"/>
<rect x="330" y="314" width="2" height="4" fill="#fff"/>
<rect x="335" y="315" width="4" height="2" fill="#fff"/>
<rect x="336" y="314" width="2" height="4" fill="#fff"/>
<rect x="264" y="321" width="4" height="2" fill="#fff"/>
<rect x="265" y="320" width="2" height="4" fill="#fff"/>
<rect x="270" y="321" width="4" height="2" fill="#fff"/>
<rect x="271" y="320" width="2" height="4" fill="#fff"/>
<rect x="276" y="321" width="4" height="2" fill="#fff"/>
<rect x="277" y="320" width="2" height="4" fill="#fff"/>
<rect x="282" y="321" width="4" height="2" fill="#fff"/>
<rect x="283" y="320" width="2" height="4" fill="#fff"/>
<rect x="288" y="321" width="4" height="2" fill="#fff"/>
<rect x="289" y="320" width="2" height="4" fill="#fff"/>
<rect x="294" y="321" width="4" height="2" fill="#fff"/>
<rect x="295" y="320" width="2" height="4" fill="#fff"/>
<rect x="299" y="321" width="4" height="2" fill="#fff"/>
<rect x="300" y="320" width="2" height="4" fill="#fff"/>
<rect x="305" y="321" width="4" height="2" fill="#fff"/>
<rect x="306" y="320" width="2" height="4" fill="#fff"/>
<rect x="311" y="321" width="4" height="2" fill="#fff"/>
<rect x="312" y="320" width="2" height="4" fill="#fff"/>
<rect x="317" y="321" width="4" height="2" fill="#fff"/>
<rect x="318" y="320" width="2" height="4" fill="#fff"/>
<rect x="323" y="321" width="4" height="2" fill="#fff"/>
<rect x="324" y="320" width="2" height="4" fill="#fff"/>
<rect x="329" y="321" width="4" height="2" fill="#fff"/>
<rect x="330" y="320" width="2" height="4" fill="#fff"/>
<rect x="335" y="321" width="4" height="2" fill="#fff"/>
<rect x="336" y="320" width="2" height="4" fill="#fff"/>
<rect x="264" y="327" width="4" height="2" fill="#fff"/>
<rect x="265" y="326" width="2" height="4" fill="#fff"/>
<rect x="270" y="327" width="4" height="2" fill="#fff"/>
<rect x="271" y="326" width="2" height="4" fill="#fff"/>
<rect x="276" y="327" width="4" height="2" fill="#fff"/>
<rect x="277" y="326" width="2" height="4" fill="#fff"/>
<rect x="323" y="327" width="4" height="2" fill="#fff"/>
<rect x="324" y="326" width="2" height="4" fill="#fff"/>
<rect x="329" y="327" width="4" height="2" fill="#fff"/>
<rect x="330" y="326" width="2" height="4" fill="#fff"/>
<rect x="335" y="327" width="4" height="2" fill="#fff"/>
<rect x="336" y="326" width="2" height="4" fill="#fff"/>
<rect x="264" y="333" width="4" height="2" fill="#fff"/>
<rect x="265" y="332" width="2" height="4" fill="#fff"/>
<rect x="270" y="333" width="4" height="2" fill="#fff"/>
<rect x="271" y="332" width="2" height="4" fill="#fff"/>
<rect x="276" y="333" width="4" height="2" fill="#fff"/>
<rect x="277" y="332" width="2" height="4" fill="#fff"/>
<rect x="323" y="333" width="4" height="2" fill="#fff"/>
<rect x="324" y="332" width="2" height="4" fill="#fff"/>
<rect x="329" y="333" width="4" height="2" fill="#fff"/>
<rect x="330" y="332" width="2" height="4" fill="#fff"/>
<rect x="335" y="333" width="4" height="2" fill="#fff"/>
<rect x="336" y="332" width="2" height="4" fill="#fff"/>
<rect x="264" y="339" width="4" height="2" fill="#fff"/>
<rect x="265" y="338" width="2" height="4" fill="#fff"/>
<rect x="270" y="339" width="4" height="2" fill="#fff"/>
<rect x="271" y="338" width="2" height="4" fill="#fff"/>
<rect x="276" y="339" width="4" height="2" fill="#fff"/>
<rect x="277" y="338" width="2" height="4" fill="#fff"/>
<rect x="323" y="339" width="4" height="2" fill="#fff"/>
<rect x="324" y="338" width="2" height="4" fill="#fff"/>
<rect x="329" y="339" width="4" height="2" fill="#fff"/>
<rect x="330" y="338" width="2" height="4" fill="#fff"/>
<rect x="335" y="339" width="4" height="2" fill="#fff"/>
<rect x="336" y="338" width="2" height="4" fill="#fff"/>
<rect x="264" y="345" width="4" height="2" fill="#fff"/>
<rect x="265" y="344" width="2" height="4" fill="#fff"/>
<rect x="270" y="345" width="4" height="2" fill="#fff"/>
<rect x="271" y="344" width="2" height="4" fill="#fff"/>
<rect x="276" y="345" width="4" height="2" fill="#fff"/>
<rect x="277" y="344" width="2" height="4" fill="#fff"/>
<rect x="323" y="345" width="4" height="2" fill="#fff"/>
<rect x="324" y="344" width="2" height="4" fill="#fff"/>
<rect x="329" y="345" width="4" height="2" fill="#fff"/>
<rect x="330" y="344" width="2" height="4" fill="#fff"/>
<rect x="335" y="345" width="4" height="2" fill="#fff"/>
<rect x="336" y="344" width="2" height="4" fill="#fff"/>
<rect x="264" y="351" width="4" height="2" fill="#fff"/>
<rect x="265" y="350" width="2" height="4" fill="#fff"/>
<rect x="270" y="351" width="4" height="2" fill="#fff"/>
<rect x="271" y="350" width="2" height="4" fill="#fff"/>
<rect x="276" y="351" width="4" height="2" fill="#fff"/>
<rect x="277" y="350" width="2" height="4" fill="#fff"/>
<rect x="323" y="351" width="4" height="2" fill="#fff"/>
<rect x="324" y="350" width="2" height="4" fill="#fff"/>
<rect x="329" y="351" width="4" height="2" fill="#fff"/>
<rect x="330" y="350" width="2" height="4" fill="#fff"/>
<rect x="335" y="351" width="4" height="2" fill="#fff"/>
<rect x="336" y="350" width="2" height="4" fill="#fff"/>
<rect x="264" y="357" width="4" height="2" fill="#fff"/>
<rect x="265" y="356" width="2" height="4" fill="#fff"/>
<rect x="270" y="357" width="4" height="2" fill="#fff"/>
<rect x="271" y="356" width="2" height="4" fill="#fff"/>
<rect x="276" y="357" width="4" height="2" fill="#fff"/>
<rect x="277" y="356" width="2" height="4" fill="#fff"/>
<rect x="323" y="357" width="4" height="2" fill="#fff"/>
<rect x="324" y="356" width="2" height="4" fill="#fff"/>
<rect x="329" y="357" width="4" height="2" fill="#fff"/>
<rect x="330" y="356" width="2" height="4" fill="#fff"/>
<rect x="335" y="357" width="4" height="2" fill="#fff"/>
<rect x="336" y="356" width="2" height="4" fill="#fff"/>
<rect x="264" y="363" width="4" height="2" fill="#fff"/>
<rect x="265" y="362" width="2" height="4" fill="#fff"/>
<rect x="270" y="363" width="4" height="2" fill="#fff"/>
<rect x="271" y="362" width="2" height="4" fill="#fff"/>
<rect x="276" y="363" width="4" height="2" fill="#fff"/>
<rect x="277" y="362" width="2" height="4" fill="#fff"/>
<rect x="323" y="363" width="4" height="2" fill="#fff"/>
<rect x="324" y="362" width="2" height="4" fill="#fff"/>
<rect x="329" y="363" width="4" height="2" fill="#fff"/>
<rect x="330" y="362" width="2" height="4" fill="#fff"/>
<rect x="335" y="363" width="4" height="2" fill="#fff"/>
<rect x="336" y="362" width="2" height="4" fill="#fff"/>
<rect x="264" y="369" width="4" height="2" fill="#fff"/>
<rect x="265" y="368" width="2" height="4" fill="#fff"/>
<rect x="270" y="369" width="4" height="2" fill="#fff"/>
<rect x="271" y="368" width="2" height="4" fill="#fff"/>
<rect x="276" y="369" width="4" height="2" fill="#fff"/>
<rect x="277" y="368" width="2" height="4" fill="#fff"/>
<rect x="282" y="369" width="4" height="2" fill="#fff"/>
<rect x="283" y="368" width="2" height="4" fill="#fff"/>
<rect x="288" y="369" width="4" height="2" fill="#fff"/>
<rect x="289" y="368" width="2" height="4" fill="#fff"/>
<rect x="294" y="369" width="4" height="2" fill="#fff"/>
<rect x="295" y="368" width="2" height="4" fill="#fff"/>
<rect x="299" y="369" width="4" height="2" fill="#fff"/>
<rect x="300" y="368" width="2" height="4" fill="#fff"/>
<rect x="305" y="369" width="4" height="2" fill="#fff"/>
<rect x="306" y="368" width="2" height="4" fill="#fff"/>
<rect x="311" y="369" width="4" height="2" fill="#fff"/>
<rect x="312" y="368" width="2" height="4" fill="#fff"/>
<rect x="317" y="369" width="4" height="2" fill="#fff"/>
<rect x="318" y="368" width="2" height="4" fill="#fff"/>
<rect x="323" y="369" width="4" height="2" fill="#fff"/>
<rect x="324" y="368" width="2" height="4" fill="#fff"/>
<rect x="329" y="369" width="4" height="2" fill="#fff"/>
<rect x="330" y="368" width="2" height="4" fill="#fff"/>
<rect x="335" y="369" width="4" height="2" fill="#fff"/>
<rect x="336" y="368" width="2" height="4" fill="#fff"/>
<rect x="264" y="374" width="4" height="2" fill="#fff"/>
<rect x="265" y="373" width="2" height="4" fill="#fff"/>
<rect x="270" y="374" width="4" height="2" fill="#fff"/>
<rect x="271" y="373" width="2" height="4" fill="#fff"/>
<rect x="276" y="374" width="4" height="2" fill="#fff"/>
<rect x="277" y="373" width="2" height="4" fill="#fff"/>
<rect x="282" y="374" width="4" height="2" fill="#fff"/>
<rect x="283" y="373" width="2" height="4" fill="#fff"/>
<rect x="288" y="374" width="4" height="2" fill="#fff"/>
<rect x="289" y="373" width="2" height="4" fill="#fff"/>
<rect x="294" y="374" width="4" height="2" fill="#fff"/>
<rect x="295" y="373" width="2" height="4" fill="#fff"/>
<rect x="299" y="374" width="4" height="2" fill="#fff"/>
<rect x="300" y="373" width="2" height="4" fill="#fff"/>
<rect x="305" y="374" width="4" height="2" fill="#fff"/>
<rect x="306" y="373" width="2" height="4" fill="#fff"/>
<rect x="311" y="374" width="4" height="2" fill="#fff"/>
<rect x="312" y="373" width="2" height="4" fill="#fff"/>
<rect x="317" y="374" width="4" height="2" fill="#fff"/>
<rect x="318" y="373" width="2" height="4" fill="#fff"/>
<rect x="323" y="374" width="4" height="2" fill="#fff"/>
<rect x="324" y="373" width="2" height="4" fill="#fff"/>
<rect x="329" y="374" width="4" height="2" fill="#fff"/>
<rect x="330" y="373" width="2" height="4" fill="#fff"/>
<rect x="335" y="374" width="4" height="2" fill="#fff"/>
<rect x="336" y="373" width="2" height="4" fill="#fff"/>
<rect x="264" y="380" width="4" height="2" fill="#fff"/>
<rect x="265" y="379" width="2" height="4" fill="#fff"/>
<rect x="270" y="380" width="4" height="2" fill="#fff"/>
<rect x="271" y="379" width="2" height="4" fill="#fff"/>
<rect x="276" y="380" width="4" height="2" fill="#fff"/>
<rect x="277" y="379" width="2" height="4" fill="#fff"/>
<rect x="282" y="380" width="4" height="2" fill="#fff"/>
<rect x="283" y="379" width="2" height="4" fill="#fff"/>
<rect x="288" y="380" width="4" height="2" fill="#fff"/>
<rect x="289" y="379" width="2" height="4" fill="#fff"/>
<rect x="294" y="380" width="4" height="2" fill="#fff"/>
<rect x="295" y="379" width="2" height="4" fill="#fff"/>
<rect x="299" y="380" width="4" height="2" fill="#fff"/>
<rect x="300" y="379" width="2" height="4" fill="#fff"/>
<rect x="305" y="380" width="4" height="2" fill="#fff"/>
<rect x="306" y="379" width="2" height="4" fill="#fff"/>
<rect x="311" y="380" width="4" height="2" fill="#fff"/>
<rect x="312" y="379" width="2" height="4" fill="#fff"/>
<rect x="317" y="380" width="4" height="2" fill="#fff"/>
<rect x="318" y="379" width="2" height="4" fill="#fff"/>
<rect x="323" y="380" width="4" height="2" fill="#fff"/>
<rect x="324" y="379" width="2" height="4" fill="#fff"/>
<rect x="329" y="380" width="4" height="2" fill="#fff"/>
<rect x="330" y="379" width="2" height="4" fill="#fff"/>
<rect x="335" y="380" width="4" height="2" fill="#fff"/>
<rect x="336" y="379" width="2" height="4" fill="#fff"/>
<polygon points="284,328 316,328 319.2,331.5 319.2,363.2 284,363.2" fill="#fff"/>
<polygon points="315,329.5 317.8,332.2 315,335 312.2,332.2" fill="#000"/>
<polygon points="287,336 316,336 318,338 318,353 316,355 287,355 285,353 285,338" fill="#000"/>
<polygon points="288,338 315,338 316,339 316,352 315,353 288,353 287,352 287,339" fill="#fff"/>
<rect x="35" y="493" width="60" height="97.5" fill="#000"/>
<rect x="37" y="495" width="3" height="5" fill="#fff"/>
<rect x="37" y="510.5" width="3" height="5" fill="#fff"/>
<rect x="42.85" y="495" width="3" height="5" fill="#fff"/>
<rect x="42.85" y="510.5" width="3" height="5" fill="#fff"/>
<rect x="48.7" y="495" width="3" height="5" fill="#fff"/>
<rect x="48.7" y="510.5" width="3" height="5" fill="#fff"/>
<rect x="54.55" y="495" width="3" height="5" fill="#fff"/>
<rect x="54.55" y="510.5" width="3" height="5" fill="#fff"/>
<rect x="60.4" y="495" width="3" height="5" fill="#fff"/>
<rect x="60.4" y="510.5" width="3" height="5" fill="#fff"/>
<rect x="66.25" y="495" width="3" height="5" fill="#fff"/>
<rect x="66.25" y="510.5" width="3" height="5" fill="#fff"/>
<rect x="72.1" y="495" width="3" height="5" fill="#fff"/>
<rect x="72.1" y="510.5" width="3" height="5" fill="#fff"/>
<rect x="77.95" y="495" width="3" height="5" fill="#fff"/>
<rect x="77.95" y="510.5" width="3" height="5" fill="#fff"/>
<rect x="83.8" y="495" width="3" height="5" fill="#fff"/>
<rect x="83.8" y="510.5" width="3" height="5" fill="#fff"/>
<rect x="89.65" y="495" width="3" height="5" fill="#fff"/>
<rect x="89.65" y="510.5" width="3" height="5" fill="#fff"/>
<rect x="39.6" y="503" width="21.3" height="4.9" fill="#fff"/>
<rect x="65.7" y="503" width="22.4" height="4.9" fill="#fff"/>
<polygon points="95.5,503.5 92.8,505.4 95.5,507.5" fill="#fff"/>
<rect x="37" y="519.4" width="3" height="5" fill="#fff"/>
<rect x="37" y="534.9" width="3" height="5" fill="#fff"/>
<rect x="42.85" y="519.4" width="3" height="5" fill="#fff"/>
<rect x="42.85" y="534.9" width="3" height="5" fill="#fff"/>
<rect x="48.7" y="519.4" width="3" height="5" fill="#fff"/>
<rect x="48.7" y="534.9" width="3" height="5" fill="#fff"/>
<rect x="54.55" y="519.4" width="3" height="5" fill="#fff"/>
<rect x="54.55" y="534.9" width="3" height="5" fill="#fff"/>
<rect x="60.4" y="519.4" width="3" height="5" fill="#fff"/>
<rect x="60.4" y="534.9" width="3" height="5" fill="#fff"/>
<rect x="66.25" y="519.4" width="3" height="5" fill="#fff"/>
<rect x="66.25" y="534.9" width="3" height="5" fill="#fff"/>
<rect x="72.1" y="519.4" width="3" height="5" fill="#fff"/>
<rect x="72.1" y="534.9" width="3" height="5" fill="#fff"/>
<rect x="77.95" y="519.4" width="3" height="5" fill="#fff"/>
<rect x="77.95" y="534.9" width="3" height="5" fill="#fff"/>
<rect x="83.8" y="519.4" width="3" height="5" fill="#fff"/>
<rect x="83.8" y="534.9" width="3" height="5" fill="#fff"/>
<rect x="89.65" y="519.4" width="3" height="5" fill="#fff"/>
<rect x="89.65" y="534.9" width="3" height="5" fill="#fff"/>
<rect x="39.6" y="527.4" width="21.3" height="4.9" fill="#fff"/>
<rect x="65.7" y="527.4" width="22.4" height="4.9" fill="#fff"/>
<polygon points="95.5,527.9 92.8,529.8 95.5,531.9" fill="#fff"/>
<rect x="37" y="543.8" width="3" height="5" fill="#fff"/>
<rect x="37" y="559.3" width="3" height="5" fill="#fff"/>
<rect x="42.85" y="543.8" width="3" height="5" fill="#fff"/>
<rect x="42.85" y="559.3" width="3" height="5" fill="#fff"/>
<rect x="48.7" y="543.8" width="3" height="5" fill="#fff"/>
<rect x="48.7" y="559.3" width="3" height="5" fill="#fff"/>
<rect x="54.55" y="543.8" width="3" height="5" fill="#fff"/>
<rect x="54.55" y="559.3" width="3" height="5" fill="#fff"/>
<rect x="60.4" y="543.8" width="3" height="5" fill="#fff"/>
<rect x="60.4" y="559.3" width="3" height="5" fill="#fff"/>
<rect x="66.25" y="543.8" width="3" height="5" fill="#fff"/>
<rect x="66.25" y="559.3" width="3" height="5" fill="#fff"/>
<rect x="72.1" y="543.8" width="3" height="5" fill="#fff"/>
<rect x="72.1" y="559.3" width="3" height="5" fill="#fff"/>
<rect x="77.95" y="543.8" width="3" height="5" fill="#fff"/>
<rect x="77.95" y="559.3" width="3" height="5" fill="#fff"/>
<rect x="83.8" y="543.8" width="3" height="5" fill="#fff"/>
<rect x="83.8" y="559.3" width="3" height="5" fill="#fff"/>
<rect x="89.65" y="543.8" width="3" height="5" fill="#fff"/>
<rect x="89.65" y="559.3" width="3" height="5" fill="#fff"/>
<rect x="39.6" y="551.8" width="21.3" height="4.9" fill="#fff"/>
<rect x="65.7" y="551.8" width="22.4" height="4.9" fill="#fff"/>
<polygon points="95.5,552.3 92.8,554.2 95.5,556.3" fill="#fff"/>
<rect x="37" y="568.2" width="3" height="5" fill="#fff"/>
<rect x="37" y="583.7" width="3" height="5" fill="#fff"/>
<rect x="42.85" y="568.2" width="3" height="5" fill="#fff"/>
<rect x="42.85" y="583.7" width="3" height="5" fill="#fff"/>
<rect x="48.7" y="568.2" width="3" height="5" fill="#fff"/>
<rect x="48.7" y="583.7" width="3" height="5" fill="#fff"/>
<rect x="54.55" y="568.2" width="3" height="5" fill="#fff"/>
<rect x="54.55" y="583.7" width="3" height="5" fill="#fff"/>
<rect x="60.4" y="568.2" width="3" height="5" fill="#fff"/>
<rect x="60.4" y="583.7" width="3" height="5" fill="#fff"/>
<rect x="66.25" y="568.2" width="3" height="5" fill="#fff"/>
<rect x="66.25" y="583.7" width="3" height="5" fill="#fff"/>
<rect x="72.1" y="568.2" width="3" height="5" fill="#fff"/>
<rect x="72.1" y="583.7" width="3" height="5" fill="#fff"/>
<rect x="77.95" y="568.2" width="3" height="5" fill="#fff"/>
<rect x="77.95" y="583.7" width="3" height="5" fill="#fff"/>
<rect x="83.8" y="568.2" width="3" height="5" fill="#fff"/>
<rect x="83.8" y="583.7" width="3" height="5" fill="#fff"/>
<rect x="89.65" y="568.2" width="3" height="5" fill="#fff"/>
<rect x="89.65" y="583.7" width="3" height="5" fill="#fff"/>
<rect x="39.6" y="576.2" width="21.3" height="4.9" fill="#fff"/>
<rect x="65.7" y="576.2" width="22.4" height="4.9" fill="#fff"/>
<polygon points="95.5,576.7 92.8,578.6 95.5,580.7" fill="#fff"/>
<rect x="111" y="493" width="60" height="97.5" fill="#000"/>
<rect x="113" y="495" width="3" height="5" fill="#fff"/>
<rect x="113" y="510.5" width="3" height="5" fill="#fff"/>
<rect x="118.85" y="495" width="3" height="5" fill="#fff"/>
<rect x="118.85" y="510.5" width="3" height="5" fill="#fff"/>
<rect x="124.7" y="495" width="3" height="5" fill="#fff"/>
<rect x="124.7" y="510.5" width="3" height="5" fill="#fff"/>
<rect x="130.55" y="495" width="3" height="5" fill="#fff"/>
<rect x="130.55" y="510.5" width="3" height="5" fill="#fff"/>
<rect x="136.4" y="495" width="3" height="5" fill="#fff"/>
<rect x="136.4" y="510.5" width="3" height="5" fill="#fff"/>
<rect x="142.25" y="495" width="3" height="5" fill="#fff"/>
<rect x="142.25" y="510.5" width="3" height="5" fill="#fff"/>
<rect x="148.1" y="495" width="3" height="5" fill="#fff"/>
<rect x="148.1" y="510.5" width="3" height="5" fill="#fff"/>
<rect x="153.95" y="495" width="3" height="5" fill="#fff"/>
<rect x="153.95" y="510.5" width="3" height="5" fill="#fff"/>
<rect x="159.8" y="495" width="3" height="5" fill="#fff"/>
<rect x="159.8" y="510.5" width="3" height="5" fill="#fff"/>
<rect x="165.65" y="495" width="3" height="5" fill="#fff"/>
<rect x="165.65" y="510.5" width="3" height="5" fill="#fff"/>
<rect x="115.6" y="503" width="21.3" height="4.9" fill="#fff"/>
<rect x="141.7" y="503" width="22.4" height="4.9" fill="#fff"/>
<polygon points="171.5,503.5 168.8,505.4 171.5,507.5" fill="#fff"/>
<rect x="113" y="519.4" width="3" height="5" fill="#fff"/>
<rect x="113" y="534.9" width="3" height="5" fill="#fff"/>
<rect x="118.85" y="519.4" width="3" height="5" fill="#fff"/>
<rect x="118.85" y="534.9" width="3" height="5" fill="#fff"/>
<rect x="124.7" y="519.4" width="3" height="5" fill="#fff"/>
<rect x="124.7" y="534.9" width="3" height="5" fill="#fff"/>
<rect x="130.55" y="519.4" width="3" height="5" fill="#fff"/>
<rect x="130.55" y="534.9" width="3" height="5" fill="#fff"/>
<rect x="136.4" y="519.4" width="3" height="5" fill="#fff"/>
<rect x="136.4" y="534.9" width="3" height="5" fill="#fff"/>
<rect x="142.25" y="519.4" width="3" height="5" fill="#fff"/>
<rect x="142.25" y="534.9" width="3" height="5" fill="#fff"/>
<rect x="148.1" y="519.4" width="3" height="5" fill="#fff"/>
<rect x="148.1" y="534.9" width="3" height="5" fill="#fff"/>
<rect x="153.95" y="519.4" width="3" height="5" fill="#fff"/>
<rect x="153.95" y="534.9" width="3" height="5" fill="#fff"/>
<rect x="159.8" y="519.4" width="3" height="5" fill="#fff"/>
<rect x="159.8" y="534.9" width="3" height="5" fill="#fff"/>
<rect x="165.65" y="519.4" width="3" height="5" fill="#fff"/>
<rect x="165.65" y="534.9" width="3" height="5" fill="#fff"/>
<rect x="115.6" y="527.4" width="21.3" height="4.9" fill="#fff"/>
<rect x="141.7" y="527.4" width="22.4" height="4.9" fill="#fff"/>
<polygon points="171.5,527.9 168.8,529.8 171.5,531.9" fill="#fff"/>
<rect x="113" y="543.8" width="3" height="5" fill="#fff"/>
<rect x="113" y="559.3" width="3" height="5" fill="#fff"/>
<rect x="118.85" y="543.8" width="3" height="5" fill="#fff"/>
<rect x="118.85" y="559.3" width="3" height="5" fill="#fff"/>
<rect x="124.7" y="543.8" width="3" height="5" fill="#fff"/>
<rect x="124.7" y="559.3" width="3" height="5" fill="#fff"/>
<rect x="130.55" y="543.8" width="3" height="5" fill="#fff"/>
<rect x="130.55" y="559.3" width="3" height="5" fill="#fff"/>
<rect x="136.4" y="543.8" width="3" height="5" fill="#fff"/>
<rect x="136.4" y="559.3" width="3" height="5" fill="#fff"/>
<rect x="142.25" y="543.8" width="3" height="5" fill="#fff"/>
<rect x="142.25" y="559.3" width="3" height="5" fill="#fff"/>
<rect x="148.1" y="543.8" width="3" height="5" fill="#fff"/>
<rect x="148.1" y="559.3" width="3" height="5" fill="#fff"/>
<rect x="153.95" y="543.8" width="3" height="5" fill="#fff"/>
<rect x="153.95" y="559.3" width="3" height="5" fill="#fff"/>
<rect x="159.8" y="543.8" width="3" height="5" fill="#fff"/>
<rect x="159.8" y="559.3" width="3" height="5" fill="#fff"/>
<rect x="165.65" y="543.8" width="3" height="5" fill="#fff"/>
<rect x="165.65" y="559.3" width="3" height="5" fill="#fff"/>
<rect x="115.6" y="551.8" width="21.3" height="4.9" fill="#fff"/>
<rect x="141.7" y="551.8" width="22.4" height="4.9" fill="#fff"/>
<polygon points="171.5,552.3 168.8,554.2 171.5,556.3" fill="#fff"/>
<rect x="113" y="568.2" width="3" height="5" fill="#fff"/>
<rect x="113" y="583.7" width="3" height="5" fill="#fff"/>
<rect x="118.85" y="568.2" width="3" height="5" fill="#fff"/>
<rect x="118.85" y="583.7" width="3" height="5" fill="#fff"/>
<rect x="124.7" y="568.2" width="3" height="5" fill="#fff"/>
<rect x="124.7" y="583.7" width="3" height="5" fill="#fff"/>
<rect x="130.55" y="568.2" width="3" height="5" fill="#fff"/>
<rect x="130.55" y="583.7" width="3" height="5" fill="#fff"/>
<rect x="136.4" y="568.2" width="3" height="5" fill="#fff"/>
<rect x="136.4" y="583.7" width="3" height="5" fill="#fff"/>
<rect x="142.25" y="568.2" width="3" height="5" fill="#fff"/>
<rect x="142.25" y="583.7" width="3" height="5" fill="#fff"/>
<rect x="148.1" y="568.2" width="3" height="5" fill="#fff"/>
<rect x="148.1" y="583.7" width="3" height="5" fill="#fff"/>
<rect x="153.95" y="568.2" width="3" height="5" fill="#fff"/>
<rect x="153.95" y="583.7" width="3" height="5" fill="#fff"/>
<rect x="159.8" y="568.2" width="3" height="5" fill="#fff"/>
<rect x="159.8" y="583.7" width="3" height="5" fill="#fff"/>
<rect x="165.65" y="568.2" width="3" height="5" fill="#fff"/>
<rect x="165.65" y="583.7" width="3" height="5" fill="#fff"/>
<rect x="115.6" y="576.2" width="21.3" height="4.9" fill="#fff"/>
<rect x="141.7" y="576.2" width="22.4" height="4.9" fill="#fff"/>
<polygon points="171.5,576.7 168.8,578.6 171.5,580.7" fill="#fff"/>
<rect x="111" y="517" width="60" height="1" fill="#fff"/>
<rect x="73.5" y="534" width="57.5" height="16" fill="#000"/>
<rect x="75" y="535.5" width="54.5" height="13" fill="#fff"/>
<rect x="72.3" y="593" width="12.4" height="6.5" fill="#000"/>
<rect x="73.3" y="597.2" width="10.5" height="1" fill="#fff"/>
<rect x="78.2" y="594" width="1" height="3.5" fill="#fff"/>
<rect x="83" y="594" width="0.8" height="3.5" fill="#fff"/>
<polygon points="102,592 126,592 128,594 128,608 126,610 102,610 100,608 100,594" fill="#000"/>
<polygon points="103,594 125,594 126,595 126,607 125,608 103,608 102,607 102,595" fill="#fff"/>
<polygon points="86,595 88.5,595.3 93,596.8 98,598 102,598 102,604 97,602.5 93,600.5 89,598.3 86,596.8" fill="#000"/>
<polygon points="94.5,598.6 102.5,599.4 102.5,601 95.5,599.9" fill="#fff"/>
<polygon points="179,452 205,452 207,454 207,469 205,471 179,471 177,469 177,454" fill="#000"/>
<polygon points="180,454 204,454 205,455 205,468 204,469 180,469 179,468 179,455" fill="#fff"/>
<polygon points="189.3,469.1 195,469.1 190.8,489 189.3,489" fill="#000"/>
<polygon points="191,468.4 192.7,468.4 191.2,479.6 191,479.6" fill="#fff"/>
<rect x="187" y="488.9" width="6.6" height="13.6" fill="#000"/>
<rect x="188" y="490.1" width="4.6" height="1.2" fill="#fff"/>
<rect x="188" y="495" width="4.6" height="1.4" fill="#fff"/>
<rect x="188" y="500.5" width="4.6" height="1.2" fill="#fff"/>
<polygon points="213,453 239,453 241,455 241,468 239,470 213,470 211,468 211,455" fill="#000"/>
<polygon points="214,455 238,455 239,456 239,467 238,468 214,468 213,467 213,456" fill="#fff"/>
<polygon points="222.4,469 228,469 223.9,489 222.4,489" fill="#000"/>
<polygon points="224.1,468.3 225.8,468.3 224.3,479.5 224.1,479.5" fill="#fff"/>
<rect x="220" y="488.9" width="7" height="13.7" fill="#000"/>
<rect x="221" y="490.1" width="5" height="1.2" fill="#fff"/>
<rect x="221" y="495" width="5" height="1.4" fill="#fff"/>
<rect x="221" y="500.5" width="5" height="1.2" fill="#fff"/>
<polygon points="176,504 203,504 205,506 205,519 203,521 176,521 174,519 174,506" fill="#000"/>
<polygon points="177,506 202,506 203,507 203,518 202,519 177,519 176,518 176,507" fill="#fff"/>
<polygon points="186.2,519.8 192,519.8 187.7,540 186.2,540" fill="#000"/>
<polygon points="187.9,519.1 189.6,519.1 188.1,530.3 187.9,530.3" fill="#fff"/>
<rect x="183.9" y="540" width="6.1" height="13" fill="#000"/>
<rect x="184.9" y="541.2" width="4.1" height="1.2" fill="#fff"/>
<rect x="184.9" y="546.1" width="4.1" height="1.4" fill="#fff"/>
<rect x="184.9" y="551.6" width="4.1" height="1.2" fill="#fff"/>
<polygon points="618,475 645,475 647,477 647,492 645,494 618,494 616,492 616,477" fill="#000"/>
<polygon points="619,478 644,478 645,479 645,490 644,491 619,491 618,490 618,479" fill="#fff"/>
<polygon points="628,493.5 634.5,493.5 627.5,513 624.5,513" fill="#000"/>
<polygon points="630.5,492 632.6,492 629.6,502 628.9,502" fill="#fff"/>
<rect x="621.9" y="512.8" width="7.1" height="14" fill="#000"/>
<rect x="623.1" y="514" width="1.2" height="11.6" fill="#fff"/>
<rect x="624.3" y="514" width="3.5" height="1" fill="#fff"/>
<rect x="624.3" y="519.2" width="3.5" height="1.4" fill="#fff"/>
<rect x="624.3" y="524.4" width="3.5" height="1.2" fill="#fff"/>
<polygon points="653,498 680,498 682,500 682,515 680,517 653,517 651,515 651,500" fill="#000"/>
<polygon points="654,501 679,501 680,502 680,513 679,514 654,514 653,513 653,502" fill="#fff"/>
<polygon points="662,515.5 669,515.5 659,538.5 656,538.5" fill="#000"/>
<polygon points="664,514.5 666.2,514.5 662.6,525 661.9,525" fill="#fff"/>
<rect x="645" y="538.1" width="25.9" height="6.9" fill="#000"/>
<rect x="646.2" y="539.3" width="1" height="4.5" fill="#fff"/>
<rect x="652.3" y="539.3" width="1" height="4.5" fill="#fff"/>
<rect x="657.9" y="539.3" width="1" height="4.5" fill="#fff"/>
<rect x="663.3" y="539.3" width="1" height="4.5" fill="#fff"/>
<rect x="664.8" y="539.5" width="4.5" height="4.2" fill="#fff"/>
<rect x="666" y="540.6" width="2" height="2" fill="#000"/>
<polygon points="505,584 529,584 531,586 531,601 529,603 505,603 503,601 503,586" fill="#000"/>
<polygon points="506,587 528,587 529,588 529,599 528,600 506,600 505,599 505,588" fill="#fff"/>
<polygon points="529.5,588.5 549.2,597 549.2,600.5 529.5,597" fill="#000"/>
<polygon points="529.5,590.8 533,591 541.5,596.5 538,596.5 529.5,594.5" fill="#fff"/>
<rect x="548.9" y="594.9" width="14.1" height="7" fill="#000"/>
<rect x="550.3" y="596.1" width="1" height="4.6" fill="#fff"/>
<rect x="555" y="596.1" width="1" height="4.6" fill="#fff"/>
<rect x="560" y="596.1" width="1" height="4.6" fill="#fff"/>
<defs><pattern id="dots" x="0" y="0" width="2" height="2" patternUnits="userSpaceOnUse"><rect x="0" y="0" width="1" height="1" fill="#000"/></pattern></defs>
<rect x="622" y="561.5" width="23.5" height="38.5" fill="url(#dots)"/>
<path d="M624,560.6 H642 L645.6,563.5 V570.5 H644.8 V577 H645.8 V582.5 H644.8 V590 H645.8 V598.5 L643.5,600.4 H624 L621.2,598.5 V594 H620.3 V582.3 H621.2 V577.8 H620.3 V566.7 H621.2 V563.2 Z" fill="none" stroke="#000" stroke-width="1.3" style="shape-rendering:auto"/>
<rect x="642.5" y="561" width="3" height="2.5" fill="#000"/>
<rect x="685" y="481" width="88" height="41.7" fill="#000"/>
<line x1="686.5" y1="483.9" x2="771.5" y2="483.9" stroke="#fff" stroke-width="1" stroke-dasharray="4,2.5"/>
<line x1="686.5" y1="520.9" x2="771.5" y2="520.9" stroke="#fff" stroke-width="1" stroke-dasharray="4,2.5"/>
<rect x="770.5" y="483.5" width="1" height="5" fill="#fff"/>
<rect x="770.8" y="495.7" width="2.2" height="12.1" fill="#fff"/>
<rect x="709" y="494.8" width="40" height="14.2" fill="#fff"/>
<polygon points="685.2,534.2 811.9,534.2 811.9,541.6 811.1,541.6 811.1,550 810,550 810,562 811,562 811,570 811.9,570 811.9,576.8 685.2,576.8" fill="#000"/>
<rect x="734" y="549" width="27.7" height="13.6" fill="#fff"/>
<rect x="836" y="538" width="30" height="37" fill="#000"/>
<rect x="860" y="533" width="6" height="46" fill="#000"/>
<rect x="863" y="531" width="3" height="50.5" fill="#000"/>
<rect x="829" y="546" width="5" height="8.8" fill="#000"/>
<rect x="830" y="547" width="3" height="6.8" fill="#fff"/>
<rect x="829" y="557" width="5" height="9" fill="#000"/>
<rect x="830" y="558" width="3" height="7" fill="#fff"/>
<rect x="833" y="543.5" width="3.5" height="25" fill="#000"/>
<rect x="834" y="544.5" width="1.5" height="23" fill="#fff"/>
<rect x="712" y="583" width="112" height="24" fill="#000"/>
<rect x="713" y="584" width="110" height="22" fill="#fff"/>
<rect x="712" y="589.3" width="112" height="1.3" fill="#000"/>
<rect x="715.1" y="585.8" width="4.3" height="2" fill="#000"/>
<rect x="713.7" y="587.3" width="7" height="2" fill="#000"/>
<rect x="713.3" y="592.9" width="7.6" height="3" fill="#000"/>
<rect x="714.7" y="594" width="1" height="1" fill="#fff"/>
<rect x="716.7" y="594" width="1" height="1" fill="#fff"/>
<rect x="718.7" y="594" width="1" height="1" fill="#fff"/>
<rect x="724.3" y="585.8" width="4.3" height="2" fill="#000"/>
<rect x="722.9" y="587.3" width="7" height="2" fill="#000"/>
<rect x="722.5" y="592.9" width="7.6" height="3" fill="#000"/>
<rect x="724.9" y="594" width="1" height="1" fill="#fff"/>
<rect x="726.9" y="594" width="1" height="1" fill="#fff"/>
<rect x="733.5" y="585.8" width="4.3" height="2" fill="#000"/>
<rect x="732.1" y="587.3" width="7" height="2" fill="#000"/>
<rect x="731.7" y="592.9" width="7.6" height="3" fill="#000"/>
<rect x="733.1" y="594" width="1" height="1" fill="#fff"/>
<rect x="735.1" y="594" width="1" height="1" fill="#fff"/>
<rect x="737.1" y="594" width="1" height="1" fill="#fff"/>
<rect x="742.7" y="585.8" width="4.3" height="2" fill="#000"/>
<rect x="741.3" y="587.3" width="7" height="2" fill="#000"/>
<rect x="740.9" y="592.9" width="7.6" height="3" fill="#000"/>
<rect x="743.3" y="594" width="1" height="1" fill="#fff"/>
<rect x="745.3" y="594" width="1" height="1" fill="#fff"/>
<rect x="751.9" y="585.8" width="4.3" height="2" fill="#000"/>
<rect x="750.5" y="587.3" width="7" height="2" fill="#000"/>
<rect x="750.1" y="592.9" width="7.6" height="3" fill="#000"/>
<rect x="751.5" y="594" width="1" height="1" fill="#fff"/>
<rect x="753.5" y="594" width="1" height="1" fill="#fff"/>
<rect x="755.5" y="594" width="1" height="1" fill="#fff"/>
<rect x="761.1" y="585.8" width="4.3" height="2" fill="#000"/>
<rect x="759.7" y="587.3" width="7" height="2" fill="#000"/>
<rect x="759.3" y="592.9" width="7.6" height="3" fill="#000"/>
<rect x="761.7" y="594" width="1" height="1" fill="#fff"/>
<rect x="763.7" y="594" width="1" height="1" fill="#fff"/>
<rect x="770.3" y="585.8" width="4.3" height="2" fill="#000"/>
<rect x="768.9" y="587.3" width="7" height="2" fill="#000"/>
<rect x="768.5" y="592.9" width="7.6" height="3" fill="#000"/>
<rect x="769.9" y="594" width="1" height="1" fill="#fff"/>
<rect x="771.9" y="594" width="1" height="1" fill="#fff"/>
<rect x="773.9" y="594" width="1" height="1" fill="#fff"/>
<rect x="779.5" y="585.8" width="4.3" height="2" fill="#000"/>
<rect x="778.1" y="587.3" width="7" height="2" fill="#000"/>
<rect x="777.7" y="592.9" width="7.6" height="3" fill="#000"/>
<rect x="780.1" y="594" width="1" height="1" fill="#fff"/>
<rect x="782.1" y="594" width="1" height="1" fill="#fff"/>
<rect x="788.7" y="585.8" width="4.3" height="2" fill="#000"/>
<rect x="787.3" y="587.3" width="7" height="2" fill="#000"/>
<rect x="786.9" y="592.9" width="7.6" height="3" fill="#000"/>
<rect x="788.3" y="594" width="1" height="1" fill="#fff"/>
<rect x="790.3" y="594" width="1" height="1" fill="#fff"/>
<rect x="792.3" y="594" width="1" height="1" fill="#fff"/>
<rect x="797.9" y="585.8" width="4.3" height="2" fill="#000"/>
<rect x="796.5" y="587.3" width="7" height="2" fill="#000"/>
<rect x="796.1" y="592.9" width="7.6" height="3" fill="#000"/>
<rect x="798.5" y="594" width="1" height="1" fill="#fff"/>
<rect x="800.5" y="594" width="1" height="1" fill="#fff"/>
<rect x="807.1" y="585.8" width="4.3" height="2" fill="#000"/>
<rect x="805.7" y="587.3" width="7" height="2" fill="#000"/>
<rect x="805.3" y="592.9" width="7.6" height="3" fill="#000"/>
<rect x="806.7" y="594" width="1" height="1" fill="#fff"/>
<rect x="808.7" y="594" width="1" height="1" fill="#fff"/>
<rect x="810.7" y="594" width="1" height="1" fill="#fff"/>
<rect x="816.3" y="585.8" width="4.3" height="2" fill="#000"/>
<rect x="814.9" y="587.3" width="7" height="2" fill="#000"/>
<rect x="814.5" y="592.9" width="7.6" height="3" fill="#000"/>
<rect x="816.9" y="594" width="1" height="1" fill="#fff"/>
<rect x="818.9" y="594" width="1" height="1" fill="#fff"/>
<rect x="717.1" y="597" width="7.8" height="6.8" fill="#000"/>
<rect x="718.1" y="598" width="5.8" height="4.8" fill="#fff"/>
<rect x="726.5" y="597" width="7.8" height="6.8" fill="#000"/>
<rect x="727.5" y="598" width="5.8" height="4.8" fill="#fff"/>
<rect x="735.9" y="597" width="7.8" height="6.8" fill="#000"/>
<rect x="736.9" y="598" width="5.8" height="4.8" fill="#fff"/>
<rect x="745.3" y="597" width="7.8" height="6.8" fill="#000"/>
<rect x="746.3" y="598" width="5.8" height="4.8" fill="#fff"/>
<rect x="754.7" y="597" width="7.8" height="6.8" fill="#000"/>
<rect x="755.7" y="598" width="5.8" height="4.8" fill="#fff"/>
<rect x="764.1" y="597" width="7.8" height="6.8" fill="#000"/>
<rect x="765.1" y="598" width="5.8" height="4.8" fill="#fff"/>
<rect x="773.5" y="597" width="7.8" height="6.8" fill="#000"/>
<rect x="774.5" y="598" width="5.8" height="4.8" fill="#fff"/>
<rect x="782.9" y="597" width="7.8" height="6.8" fill="#000"/>
<rect x="783.9" y="598" width="5.8" height="4.8" fill="#fff"/>
<rect x="792.3" y="597" width="7.8" height="6.8" fill="#000"/>
<rect x="793.3" y="598" width="5.8" height="4.8" fill="#fff"/>
<rect x="801.7" y="597" width="7.8" height="6.8" fill="#000"/>
<rect x="802.7" y="598" width="5.8" height="4.8" fill="#fff"/>
<rect x="811.1" y="597" width="7.8" height="6.8" fill="#000"/>
<rect x="812.1" y="598" width="5.8" height="4.8" fill="#fff"/>
<path fill="#000" d="M42,44h1v1h-1zM42,45h1v1h-1zM42,46h1v1h-1zM42,47h1v1h-1zM42,48h1v1h-1zM42,49h1v1h-1zM42,50h1v1h-1zM39,51h1v1h-1zM42,51h1v1h-1zM39,52h1v1h-1zM42,52h1v1h-1zM40,53h2v1h-2zM49,45h1v1h-1zM49,46h1v1h-1zM47,47h3v1h-3zM49,48h1v1h-1zM49,49h1v1h-1zM49,50h1v1h-1zM49,51h1v1h-1zM49,52h1v1h-1zM49,53h1v1h-1zM55,45h3v1h-3zM54,46h1v1h-1zM58,46h1v1h-1zM54,47h1v1h-1zM58,47h1v1h-1zM58,48h1v1h-1zM56,49h2v1h-2zM58,50h1v1h-1zM54,51h1v1h-1zM58,51h1v1h-1zM54,52h1v1h-1zM58,52h1v1h-1zM55,53h3v1h-3zM42,73h1v1h-1zM42,74h1v1h-1zM42,75h1v1h-1zM42,76h1v1h-1zM42,77h1v1h-1zM42,78h1v1h-1zM42,79h1v1h-1zM39,80h1v1h-1zM42,80h1v1h-1zM39,81h1v1h-1zM42,81h1v1h-1zM40,82h2v1h-2zM49,74h1v1h-1zM49,75h1v1h-1zM47,76h3v1h-3zM49,77h1v1h-1zM49,78h1v1h-1zM49,79h1v1h-1zM49,80h1v1h-1zM49,81h1v1h-1zM49,82h1v1h-1zM55,74h3v1h-3zM54,75h1v1h-1zM58,75h1v1h-1zM54,76h1v1h-1zM58,76h1v1h-1zM58,77h1v1h-1zM57,78h1v1h-1zM56,79h1v1h-1zM55,80h1v1h-1zM54,81h1v1h-1zM54,82h5v1h-5zM42,93h1v1h-1zM42,94h1v1h-1zM42,95h1v1h-1zM42,96h1v1h-1zM42,97h1v1h-1zM42,98h1v1h-1zM42,99h1v1h-1zM39,100h1v1h-1zM42,100h1v1h-1zM39,101h1v1h-1zM42,101h1v1h-1zM40,102h2v1h-2zM49,94h1v1h-1zM49,95h1v1h-1zM47,96h3v1h-3zM49,97h1v1h-1zM49,98h1v1h-1zM49,99h1v1h-1zM49,100h1v1h-1zM49,101h1v1h-1zM49,102h1v1h-1zM56,94h1v1h-1zM56,95h1v1h-1zM54,96h3v1h-3zM56,97h1v1h-1zM56,98h1v1h-1zM56,99h1v1h-1zM56,100h1v1h-1zM56,101h1v1h-1zM56,102h1v1h-1zM42,114h1v1h-1zM42,115h1v1h-1zM42,116h1v1h-1zM42,117h1v1h-1zM42,118h1v1h-1zM42,119h1v1h-1zM42,120h1v1h-1zM39,121h1v1h-1zM42,121h1v1h-1zM39,122h1v1h-1zM42,122h1v1h-1zM40,123h2v1h-2zM49,115h1v1h-1zM49,116h1v1h-1zM47,117h3v1h-3zM49,118h1v1h-1zM49,119h1v1h-1zM49,120h1v1h-1zM49,121h1v1h-1zM49,122h1v1h-1zM49,123h1v1h-1zM56,115h1v1h-1zM55,116h1v1h-1zM57,116h1v1h-1zM54,117h1v1h-1zM58,117h1v1h-1zM54,118h1v1h-1zM58,118h1v1h-1zM54,119h1v1h-1zM58,119h1v1h-1zM54,120h1v1h-1zM58,120h1v1h-1zM54,121h1v1h-1zM58,121h1v1h-1zM55,122h1v1h-1zM57,122h1v1h-1zM56,123h1v1h-1zM43,150h1v1h-1zM43,151h1v1h-1zM43,152h1v1h-1zM43,153h1v1h-1zM43,154h1v1h-1zM43,155h1v1h-1zM43,156h1v1h-1zM40,157h1v1h-1zM43,157h1v1h-1zM40,158h1v1h-1zM43,158h1v1h-1zM41,159h2v1h-2zM48,151h3v1h-3zM47,152h1v1h-1zM51,152h1v1h-1zM47,153h1v1h-1zM51,153h1v1h-1zM47,154h1v1h-1zM51,154h1v1h-1zM47,155h1v1h-1zM51,155h1v1h-1zM48,156h4v1h-4zM51,157h1v1h-1zM47,158h1v1h-1zM51,158h1v1h-1zM48,159h3v1h-3zM155,47h4v1h-4zM155,48h1v1h-1zM159,48h1v1h-1zM155,49h1v1h-1zM159,49h1v1h-1zM155,50h1v1h-1zM159,50h1v1h-1zM155,51h4v1h-4zM155,52h1v1h-1zM159,52h1v1h-1zM155,53h1v1h-1zM159,53h1v1h-1zM155,54h1v1h-1zM159,54h1v1h-1zM155,55h1v1h-1zM159,55h1v1h-1zM155,56h4v1h-4zM166,48h1v1h-1zM165,49h1v1h-1zM167,49h1v1h-1zM165,50h1v1h-1zM167,50h1v1h-1zM165,51h1v1h-1zM167,51h1v1h-1zM164,52h5v1h-5zM164,53h1v1h-1zM168,53h1v1h-1zM164,54h1v1h-1zM168,54h1v1h-1zM164,55h1v1h-1zM168,55h1v1h-1zM163,56h1v1h-1zM169,56h1v1h-1zM172,47h1v1h-1zM177,47h1v1h-1zM172,48h2v1h-2zM177,48h1v1h-1zM172,49h2v1h-2zM177,49h1v1h-1zM172,50h1v1h-1zM174,50h1v1h-1zM177,50h1v1h-1zM172,51h1v1h-1zM174,51h1v1h-1zM177,51h1v1h-1zM172,52h1v1h-1zM175,52h1v1h-1zM177,52h1v1h-1zM172,53h1v1h-1zM175,53h1v1h-1zM177,53h1v1h-1zM172,54h1v1h-1zM176,54h2v1h-2zM172,55h1v1h-1zM176,55h2v1h-2zM172,56h1v1h-1zM177,56h1v1h-1zM182,47h1v1h-1zM187,47h1v1h-1zM182,48h1v1h-1zM186,48h1v1h-1zM182,49h1v1h-1zM186,49h1v1h-1zM182,50h1v1h-1zM185,50h1v1h-1zM182,51h1v1h-1zM184,51h1v1h-1zM182,52h2v1h-2zM182,53h1v1h-1zM184,53h1v1h-1zM182,54h1v1h-1zM185,54h1v1h-1zM182,55h1v1h-1zM186,55h1v1h-1zM182,56h1v1h-1zM187,56h1v1h-1zM197,48h1v1h-1zM196,49h1v1h-1zM198,49h1v1h-1zM195,50h1v1h-1zM199,50h1v1h-1zM195,51h1v1h-1zM199,51h1v1h-1zM195,52h1v1h-1zM199,52h1v1h-1zM195,53h1v1h-1zM199,53h1v1h-1zM195,54h1v1h-1zM199,54h1v1h-1zM196,55h1v1h-1zM198,55h1v1h-1zM197,56h1v1h-1zM157,131h4v1h-4zM157,132h1v1h-1zM161,132h1v1h-1zM157,133h1v1h-1zM161,133h1v1h-1zM157,134h1v1h-1zM161,134h1v1h-1zM157,135h4v1h-4zM157,136h1v1h-1zM161,136h1v1h-1zM157,137h1v1h-1zM161,137h1v1h-1zM157,138h1v1h-1zM161,138h1v1h-1zM157,139h1v1h-1zM161,139h1v1h-1zM157,140h4v1h-4zM167,132h1v1h-1zM166,133h1v1h-1zM168,133h1v1h-1zM166,134h1v1h-1zM168,134h1v1h-1zM166,135h1v1h-1zM168,135h1v1h-1zM165,136h5v1h-5zM165,137h1v1h-1zM169,137h1v1h-1zM165,138h1v1h-1zM169,138h1v1h-1zM165,139h1v1h-1zM169,139h1v1h-1zM164,140h1v1h-1zM170,140h1v1h-1zM174,131h1v1h-1zM179,131h1v1h-1zM174,132h2v1h-2zM179,132h1v1h-1zM174,133h2v1h-2zM179,133h1v1h-1zM174,134h1v1h-1zM176,134h1v1h-1zM179,134h1v1h-1zM174,135h1v1h-1zM176,135h1v1h-1zM179,135h1v1h-1zM174,136h1v1h-1zM177,136h1v1h-1zM179,136h1v1h-1zM174,137h1v1h-1zM177,137h1v1h-1zM179,137h1v1h-1zM174,138h1v1h-1zM178,138h2v1h-2zM174,139h1v1h-1zM178,139h2v1h-2zM174,140h1v1h-1zM179,140h1v1h-1zM183,131h1v1h-1zM188,131h1v1h-1zM183,132h1v1h-1zM187,132h1v1h-1zM183,133h1v1h-1zM187,133h1v1h-1zM183,134h1v1h-1zM186,134h1v1h-1zM183,135h1v1h-1zM185,135h1v1h-1zM183,136h2v1h-2zM183,137h1v1h-1zM185,137h1v1h-1zM183,138h1v1h-1zM186,138h1v1h-1zM183,139h1v1h-1zM187,139h1v1h-1zM183,140h1v1h-1zM188,140h1v1h-1zM200,132h1v1h-1zM200,133h1v1h-1zM198,134h3v1h-3zM200,135h1v1h-1zM200,136h1v1h-1zM200,137h1v1h-1zM200,138h1v1h-1zM200,139h1v1h-1zM200,140h1v1h-1zM349,65h3v1h-3zM348,66h1v1h-1zM352,66h1v1h-1zM348,67h1v1h-1zM352,67h1v1h-1zM348,68h1v1h-1zM349,69h2v1h-2zM351,70h1v1h-1zM352,71h1v1h-1zM347,72h1v1h-1zM352,72h1v1h-1zM347,73h1v1h-1zM352,73h1v1h-1zM348,74h4v1h-4zM359,66h1v1h-1zM359,67h1v1h-1zM357,68h3v1h-3zM359,69h1v1h-1zM359,70h1v1h-1zM359,71h1v1h-1zM359,72h1v1h-1zM359,73h1v1h-1zM359,74h1v1h-1zM712,53h1v1h-1zM717,53h1v1h-1zM712,54h2v1h-2zM716,54h2v1h-2zM712,55h2v1h-2zM716,55h2v1h-2zM712,56h1v1h-1zM714,56h2v1h-2zM717,56h1v1h-1zM712,57h1v1h-1zM714,57h2v1h-2zM717,57h1v1h-1zM712,58h1v1h-1zM717,58h1v1h-1zM712,59h1v1h-1zM717,59h1v1h-1zM712,60h1v1h-1zM717,60h1v1h-1zM712,61h1v1h-1zM717,61h1v1h-1zM721,53h1v1h-1zM726,53h1v1h-1zM721,54h1v1h-1zM726,54h1v1h-1zM721,55h1v1h-1zM726,55h1v1h-1zM721,56h1v1h-1zM726,56h1v1h-1zM721,57h6v1h-6zM721,58h1v1h-1zM726,58h1v1h-1zM721,59h1v1h-1zM726,59h1v1h-1zM721,60h1v1h-1zM726,60h1v1h-1zM721,61h1v1h-1zM726,61h1v1h-1zM730,54h1v1h-1zM729,55h1v1h-1zM731,55h1v1h-1zM728,56h1v1h-1zM732,56h1v1h-1zM728,57h1v1h-1zM732,57h1v1h-1zM728,58h1v1h-1zM732,58h1v1h-1zM728,59h1v1h-1zM732,59h1v1h-1zM729,60h1v1h-1zM731,60h1v1h-1zM730,61h1v1h-1zM737,54h1v1h-1zM736,55h1v1h-1zM738,55h1v1h-1zM735,56h1v1h-1zM739,56h1v1h-1zM735,57h1v1h-1zM739,57h1v1h-1zM735,58h1v1h-1zM739,58h1v1h-1zM735,59h1v1h-1zM739,59h1v1h-1zM736,60h1v1h-1zM738,60h1v1h-1zM737,61h1v1h-1zM743,54h3v1h-3zM742,55h1v1h-1zM746,55h1v1h-1zM746,56h1v1h-1zM745,57h1v1h-1zM744,58h1v1h-1zM743,59h1v1h-1zM742,60h1v1h-1zM742,61h5v1h-5zM750,54h1v1h-1zM750,55h1v1h-1zM748,56h3v1h-3zM750,57h1v1h-1zM750,58h1v1h-1zM750,59h1v1h-1zM750,60h1v1h-1zM750,61h1v1h-1zM41,199h1v1h-1zM46,199h1v1h-1zM41,200h1v1h-1zM46,200h1v1h-1zM41,201h1v1h-1zM46,201h1v1h-1zM41,202h1v1h-1zM46,202h1v1h-1zM41,203h1v1h-1zM46,203h1v1h-1zM41,204h1v1h-1zM46,204h1v1h-1zM41,205h1v1h-1zM46,205h1v1h-1zM41,206h1v1h-1zM46,206h1v1h-1zM42,207h1v1h-1zM45,207h1v1h-1zM43,208h2v1h-2zM51,200h4v1h-4zM50,201h1v1h-1zM50,202h1v1h-1zM50,203h4v1h-4zM54,204h1v1h-1zM54,205h1v1h-1zM54,206h1v1h-1zM50,207h1v1h-1zM54,207h1v1h-1zM51,208h3v1h-3zM58,200h3v1h-3zM57,201h1v1h-1zM61,201h1v1h-1zM57,202h1v1h-1zM61,202h1v1h-1zM61,203h1v1h-1zM60,204h1v1h-1zM59,205h1v1h-1zM58,206h1v1h-1zM57,207h1v1h-1zM57,208h5v1h-5zM42,223h1v1h-1zM47,223h1v1h-1zM42,224h1v1h-1zM47,224h1v1h-1zM42,225h1v1h-1zM47,225h1v1h-1zM42,226h1v1h-1zM47,226h1v1h-1zM42,227h1v1h-1zM47,227h1v1h-1zM42,228h1v1h-1zM47,228h1v1h-1zM42,229h1v1h-1zM47,229h1v1h-1zM42,230h1v1h-1zM47,230h1v1h-1zM43,231h1v1h-1zM46,231h1v1h-1zM44,232h2v1h-2zM51,224h4v1h-4zM50,225h1v1h-1zM50,226h1v1h-1zM50,227h4v1h-4zM54,228h1v1h-1zM54,229h1v1h-1zM54,230h1v1h-1zM50,231h1v1h-1zM54,231h1v1h-1zM51,232h3v1h-3zM61,224h1v1h-1zM61,225h1v1h-1zM59,226h3v1h-3zM61,227h1v1h-1zM61,228h1v1h-1zM61,229h1v1h-1zM61,230h1v1h-1zM61,231h1v1h-1zM61,232h1v1h-1zM41,247h1v1h-1zM46,247h1v1h-1zM41,248h1v1h-1zM46,248h1v1h-1zM41,249h1v1h-1zM46,249h1v1h-1zM41,250h1v1h-1zM46,250h1v1h-1zM41,251h1v1h-1zM46,251h1v1h-1zM41,252h1v1h-1zM46,252h1v1h-1zM41,253h1v1h-1zM46,253h1v1h-1zM41,254h1v1h-1zM46,254h1v1h-1zM42,255h1v1h-1zM45,255h1v1h-1zM43,256h2v1h-2zM51,248h4v1h-4zM50,249h1v1h-1zM50,250h1v1h-1zM50,251h4v1h-4zM54,252h1v1h-1zM54,253h1v1h-1zM54,254h1v1h-1zM50,255h1v1h-1zM54,255h1v1h-1zM51,256h3v1h-3zM59,248h1v1h-1zM58,249h1v1h-1zM60,249h1v1h-1zM57,250h1v1h-1zM61,250h1v1h-1zM57,251h1v1h-1zM61,251h1v1h-1zM57,252h1v1h-1zM61,252h1v1h-1zM57,253h1v1h-1zM61,253h1v1h-1zM57,254h1v1h-1zM61,254h1v1h-1zM58,255h1v1h-1zM60,255h1v1h-1zM59,256h1v1h-1zM101,221h5v1h-5zM103,222h1v1h-1zM103,223h1v1h-1zM103,224h1v1h-1zM103,225h1v1h-1zM103,226h1v1h-1zM103,227h1v1h-1zM103,228h1v1h-1zM103,229h1v1h-1zM103,230h1v1h-1zM110,222h1v1h-1zM109,223h1v1h-1zM111,223h1v1h-1zM109,224h1v1h-1zM111,224h1v1h-1zM109,225h1v1h-1zM111,225h1v1h-1zM108,226h5v1h-5zM108,227h1v1h-1zM112,227h1v1h-1zM108,228h1v1h-1zM112,228h1v1h-1zM108,229h1v1h-1zM112,229h1v1h-1zM107,230h1v1h-1zM113,230h1v1h-1zM119,221h3v1h-3zM118,222h1v1h-1zM122,222h1v1h-1zM117,223h1v1h-1zM122,223h1v1h-1zM117,224h1v1h-1zM117,225h1v1h-1zM117,226h1v1h-1zM120,226h3v1h-3zM117,227h1v1h-1zM122,227h1v1h-1zM117,228h1v1h-1zM122,228h1v1h-1zM118,229h1v1h-1zM122,229h1v1h-1zM119,230h3v1h-3zM22,313h1v1h-1zM26,313h1v1h-1zM30,313h1v1h-1zM22,314h1v1h-1zM26,314h1v1h-1zM30,314h1v1h-1zM22,315h2v1h-2zM25,315h3v1h-3zM29,315h2v1h-2zM23,316h1v1h-1zM25,316h1v1h-1zM27,316h1v1h-1zM29,316h1v1h-1zM23,317h1v1h-1zM25,317h1v1h-1zM27,317h1v1h-1zM29,317h1v1h-1zM23,318h1v1h-1zM25,318h1v1h-1zM27,318h1v1h-1zM29,318h1v1h-1zM23,319h1v1h-1zM25,319h1v1h-1zM27,319h1v1h-1zM29,319h1v1h-1zM23,320h2v1h-2zM28,320h2v1h-2zM24,321h1v1h-1zM28,321h1v1h-1zM24,322h1v1h-1zM28,322h1v1h-1zM35,314h4v1h-4zM34,315h1v1h-1zM34,316h1v1h-1zM34,317h4v1h-4zM38,318h1v1h-1zM38,319h1v1h-1zM38,320h1v1h-1zM34,321h1v1h-1zM38,321h1v1h-1zM35,322h3v1h-3zM20,412h1v1h-1zM24,412h1v1h-1zM28,412h1v1h-1zM20,413h1v1h-1zM24,413h1v1h-1zM28,413h1v1h-1zM20,414h2v1h-2zM23,414h3v1h-3zM27,414h2v1h-2zM21,415h1v1h-1zM23,415h1v1h-1zM25,415h1v1h-1zM27,415h1v1h-1zM21,416h1v1h-1zM23,416h1v1h-1zM25,416h1v1h-1zM27,416h1v1h-1zM21,417h1v1h-1zM23,417h1v1h-1zM25,417h1v1h-1zM27,417h1v1h-1zM21,418h1v1h-1zM23,418h1v1h-1zM25,418h1v1h-1zM27,418h1v1h-1zM21,419h2v1h-2zM26,419h2v1h-2zM22,420h1v1h-1zM26,420h1v1h-1zM22,421h1v1h-1zM26,421h1v1h-1zM34,413h1v1h-1zM34,414h1v1h-1zM33,415h2v1h-2zM33,416h2v1h-2zM32,417h1v1h-1zM34,417h1v1h-1zM31,418h1v1h-1zM34,418h1v1h-1zM31,419h5v1h-5zM34,420h1v1h-1zM34,421h1v1h-1zM81,337h3v1h-3zM80,338h1v1h-1zM84,338h1v1h-1zM79,339h1v1h-1zM84,339h1v1h-1zM79,340h1v1h-1zM79,341h1v1h-1zM79,342h1v1h-1zM79,343h1v1h-1zM79,344h1v1h-1zM84,344h1v1h-1zM80,345h1v1h-1zM84,345h1v1h-1zM81,346h3v1h-3zM89,337h4v1h-4zM89,338h1v1h-1zM93,338h1v1h-1zM89,339h1v1h-1zM93,339h1v1h-1zM89,340h1v1h-1zM93,340h1v1h-1zM89,341h1v1h-1zM93,341h1v1h-1zM89,342h4v1h-4zM89,343h1v1h-1zM89,344h1v1h-1zM89,345h1v1h-1zM89,346h1v1h-1zM98,337h1v1h-1zM103,337h1v1h-1zM98,338h1v1h-1zM103,338h1v1h-1zM98,339h1v1h-1zM103,339h1v1h-1zM98,340h1v1h-1zM103,340h1v1h-1zM98,341h1v1h-1zM103,341h1v1h-1zM98,342h1v1h-1zM103,342h1v1h-1zM98,343h1v1h-1zM103,343h1v1h-1zM98,344h1v1h-1zM103,344h1v1h-1zM99,345h1v1h-1zM102,345h1v1h-1zM100,346h2v1h-2zM289,339h1v1h-1zM294,339h1v1h-1zM289,340h2v1h-2zM294,340h1v1h-1zM289,341h2v1h-2zM294,341h1v1h-1zM289,342h1v1h-1zM291,342h1v1h-1zM294,342h1v1h-1zM289,343h1v1h-1zM291,343h1v1h-1zM294,343h1v1h-1zM289,344h1v1h-1zM292,344h1v1h-1zM294,344h1v1h-1zM289,345h1v1h-1zM292,345h1v1h-1zM294,345h1v1h-1zM289,346h1v1h-1zM293,346h2v1h-2zM289,347h1v1h-1zM293,347h2v1h-2zM289,348h1v1h-1zM294,348h1v1h-1zM299,339h4v1h-4zM299,340h1v1h-1zM303,340h1v1h-1zM299,341h1v1h-1zM303,341h1v1h-1zM299,342h1v1h-1zM303,342h1v1h-1zM299,343h1v1h-1zM303,343h1v1h-1zM299,344h4v1h-4zM299,345h1v1h-1zM299,346h1v1h-1zM299,347h1v1h-1zM299,348h1v1h-1zM307,339h1v1h-1zM312,339h1v1h-1zM307,340h1v1h-1zM312,340h1v1h-1zM307,341h1v1h-1zM312,341h1v1h-1zM307,342h1v1h-1zM312,342h1v1h-1zM307,343h1v1h-1zM312,343h1v1h-1zM307,344h1v1h-1zM312,344h1v1h-1zM307,345h1v1h-1zM312,345h1v1h-1zM307,346h1v1h-1zM312,346h1v1h-1zM308,347h1v1h-1zM311,347h1v1h-1zM309,348h2v1h-2zM83,536h3v1h-3zM82,537h1v1h-1zM86,537h1v1h-1zM81,538h1v1h-1zM86,538h1v1h-1zM81,539h1v1h-1zM81,540h1v1h-1zM81,541h1v1h-1zM81,542h1v1h-1zM81,543h1v1h-1zM86,543h1v1h-1zM82,544h1v1h-1zM86,544h1v1h-1zM83,545h3v1h-3zM94,537h1v1h-1zM93,538h1v1h-1zM95,538h1v1h-1zM93,539h1v1h-1zM95,539h1v1h-1zM93,540h1v1h-1zM95,540h1v1h-1zM92,541h5v1h-5zM92,542h1v1h-1zM96,542h1v1h-1zM92,543h1v1h-1zM96,543h1v1h-1zM92,544h1v1h-1zM96,544h1v1h-1zM91,545h1v1h-1zM97,545h1v1h-1zM101,536h3v1h-3zM100,537h1v1h-1zM104,537h1v1h-1zM99,538h1v1h-1zM104,538h1v1h-1zM99,539h1v1h-1zM99,540h1v1h-1zM99,541h1v1h-1zM99,542h1v1h-1zM99,543h1v1h-1zM104,543h1v1h-1zM100,544h1v1h-1zM104,544h1v1h-1zM101,545h3v1h-3zM110,536h1v1h-1zM115,536h1v1h-1zM110,537h1v1h-1zM115,537h1v1h-1zM110,538h1v1h-1zM115,538h1v1h-1zM110,539h1v1h-1zM115,539h1v1h-1zM110,540h6v1h-6zM110,541h1v1h-1zM115,541h1v1h-1zM110,542h1v1h-1zM115,542h1v1h-1zM110,543h1v1h-1zM115,543h1v1h-1zM110,544h1v1h-1zM115,544h1v1h-1zM110,545h1v1h-1zM115,545h1v1h-1zM119,536h5v1h-5zM119,537h1v1h-1zM119,538h1v1h-1zM119,539h1v1h-1zM119,540h4v1h-4zM119,541h1v1h-1zM119,542h1v1h-1zM119,543h1v1h-1zM119,544h1v1h-1zM119,545h5v1h-5zM105,595h1v1h-1zM109,595h1v1h-1zM113,595h1v1h-1zM105,596h1v1h-1zM109,596h1v1h-1zM113,596h1v1h-1zM105,597h2v1h-2zM108,597h3v1h-3zM112,597h2v1h-2zM106,598h1v1h-1zM108,598h1v1h-1zM110,598h1v1h-1zM112,598h1v1h-1zM106,599h1v1h-1zM108,599h1v1h-1zM110,599h1v1h-1zM112,599h1v1h-1zM106,600h1v1h-1zM108,600h1v1h-1zM110,600h1v1h-1zM112,600h1v1h-1zM106,601h1v1h-1zM108,601h1v1h-1zM110,601h1v1h-1zM112,601h1v1h-1zM106,602h2v1h-2zM111,602h2v1h-2zM107,603h1v1h-1zM111,603h1v1h-1zM107,604h1v1h-1zM111,604h1v1h-1zM117,596h3v1h-3zM116,597h1v1h-1zM120,597h1v1h-1zM116,598h1v1h-1zM120,598h1v1h-1zM120,599h1v1h-1zM118,600h2v1h-2zM120,601h1v1h-1zM116,602h1v1h-1zM120,602h1v1h-1zM116,603h1v1h-1zM120,603h1v1h-1zM117,604h3v1h-3zM182,456h1v1h-1zM186,456h1v1h-1zM190,456h1v1h-1zM182,457h1v1h-1zM186,457h1v1h-1zM190,457h1v1h-1zM182,458h2v1h-2zM185,458h3v1h-3zM189,458h2v1h-2zM183,459h1v1h-1zM185,459h1v1h-1zM187,459h1v1h-1zM189,459h1v1h-1zM183,460h1v1h-1zM185,460h1v1h-1zM187,460h1v1h-1zM189,460h1v1h-1zM183,461h1v1h-1zM185,461h1v1h-1zM187,461h1v1h-1zM189,461h1v1h-1zM183,462h1v1h-1zM185,462h1v1h-1zM187,462h1v1h-1zM189,462h1v1h-1zM183,463h2v1h-2zM188,463h2v1h-2zM184,464h1v1h-1zM188,464h1v1h-1zM184,465h1v1h-1zM188,465h1v1h-1zM195,457h3v1h-3zM194,458h1v1h-1zM198,458h1v1h-1zM194,459h1v1h-1zM198,459h1v1h-1zM198,460h1v1h-1zM197,461h1v1h-1zM196,462h1v1h-1zM195,463h1v1h-1zM194,464h1v1h-1zM194,465h5v1h-5zM220,456h1v1h-1zM220,457h1v1h-1zM220,458h1v1h-1zM220,459h1v1h-1zM220,460h1v1h-1zM220,461h1v1h-1zM220,462h1v1h-1zM217,463h1v1h-1zM220,463h1v1h-1zM217,464h1v1h-1zM220,464h1v1h-1zM218,465h2v1h-2zM226,457h3v1h-3zM225,458h1v1h-1zM229,458h1v1h-1zM225,459h1v1h-1zM225,460h1v1h-1zM225,461h4v1h-4zM225,462h1v1h-1zM229,462h1v1h-1zM225,463h1v1h-1zM229,463h1v1h-1zM225,464h1v1h-1zM229,464h1v1h-1zM226,465h3v1h-3zM180,507h1v1h-1zM184,507h1v1h-1zM188,507h1v1h-1zM180,508h1v1h-1zM184,508h1v1h-1zM188,508h1v1h-1zM180,509h2v1h-2zM183,509h3v1h-3zM187,509h2v1h-2zM181,510h1v1h-1zM183,510h1v1h-1zM185,510h1v1h-1zM187,510h1v1h-1zM181,511h1v1h-1zM183,511h1v1h-1zM185,511h1v1h-1zM187,511h1v1h-1zM181,512h1v1h-1zM183,512h1v1h-1zM185,512h1v1h-1zM187,512h1v1h-1zM181,513h1v1h-1zM183,513h1v1h-1zM185,513h1v1h-1zM187,513h1v1h-1zM181,514h2v1h-2zM186,514h2v1h-2zM182,515h1v1h-1zM186,515h1v1h-1zM182,516h1v1h-1zM186,516h1v1h-1zM195,508h1v1h-1zM195,509h1v1h-1zM193,510h3v1h-3zM195,511h1v1h-1zM195,512h1v1h-1zM195,513h1v1h-1zM195,514h1v1h-1zM195,515h1v1h-1zM195,516h1v1h-1zM627,478h1v1h-1zM627,479h1v1h-1zM627,480h1v1h-1zM627,481h1v1h-1zM627,482h1v1h-1zM627,483h1v1h-1zM627,484h1v1h-1zM624,485h1v1h-1zM627,485h1v1h-1zM624,486h1v1h-1zM627,486h1v1h-1zM625,487h2v1h-2zM632,479h3v1h-3zM631,480h1v1h-1zM635,480h1v1h-1zM631,481h1v1h-1zM635,481h1v1h-1zM635,482h1v1h-1zM633,483h2v1h-2zM635,484h1v1h-1zM631,485h1v1h-1zM635,485h1v1h-1zM631,486h1v1h-1zM635,486h1v1h-1zM632,487h3v1h-3zM661,502h1v1h-1zM661,503h1v1h-1zM661,504h1v1h-1zM661,505h1v1h-1zM661,506h1v1h-1zM661,507h1v1h-1zM661,508h1v1h-1zM658,509h1v1h-1zM661,509h1v1h-1zM658,510h1v1h-1zM661,510h1v1h-1zM659,511h2v1h-2zM666,503h3v1h-3zM665,504h1v1h-1zM669,504h1v1h-1zM665,505h1v1h-1zM669,505h1v1h-1zM669,506h1v1h-1zM668,507h1v1h-1zM667,508h1v1h-1zM666,509h1v1h-1zM665,510h1v1h-1zM665,511h5v1h-5zM513,587h1v1h-1zM513,588h1v1h-1zM513,589h1v1h-1zM513,590h1v1h-1zM513,591h1v1h-1zM513,592h1v1h-1zM513,593h1v1h-1zM510,594h1v1h-1zM513,594h1v1h-1zM510,595h1v1h-1zM513,595h1v1h-1zM511,596h2v1h-2zM520,588h1v1h-1zM520,589h1v1h-1zM519,590h2v1h-2zM519,591h2v1h-2zM518,592h1v1h-1zM520,592h1v1h-1zM517,593h1v1h-1zM520,593h1v1h-1zM517,594h5v1h-5zM520,595h1v1h-1zM520,596h1v1h-1zM715,496h4v1h-4zM715,497h1v1h-1zM719,497h1v1h-1zM715,498h1v1h-1zM719,498h1v1h-1zM715,499h1v1h-1zM719,499h1v1h-1zM715,500h4v1h-4zM715,501h1v1h-1zM719,501h1v1h-1zM715,502h1v1h-1zM719,502h1v1h-1zM715,503h1v1h-1zM719,503h1v1h-1zM715,504h1v1h-1zM719,504h1v1h-1zM715,505h4v1h-4zM724,496h1v1h-1zM724,497h1v1h-1zM724,498h1v1h-1zM724,499h1v1h-1zM724,500h1v1h-1zM724,501h1v1h-1zM724,502h1v1h-1zM724,503h1v1h-1zM724,504h1v1h-1zM724,505h1v1h-1zM729,496h3v1h-3zM728,497h1v1h-1zM732,497h1v1h-1zM727,498h1v1h-1zM733,498h1v1h-1zM727,499h1v1h-1zM733,499h1v1h-1zM727,500h1v1h-1zM733,500h1v1h-1zM727,501h1v1h-1zM733,501h1v1h-1zM727,502h1v1h-1zM733,502h1v1h-1zM727,503h1v1h-1zM733,503h1v1h-1zM728,504h1v1h-1zM732,504h1v1h-1zM729,505h3v1h-3zM739,496h3v1h-3zM738,497h1v1h-1zM742,497h1v1h-1zM738,498h1v1h-1zM742,498h1v1h-1zM738,499h1v1h-1zM739,500h2v1h-2zM741,501h1v1h-1zM742,502h1v1h-1zM737,503h1v1h-1zM742,503h1v1h-1zM737,504h1v1h-1zM742,504h1v1h-1zM738,505h4v1h-4zM736,550h1v1h-1zM741,550h1v1h-1zM736,551h1v1h-1zM740,551h1v1h-1zM736,552h1v1h-1zM740,552h1v1h-1zM736,553h1v1h-1zM739,553h1v1h-1zM736,554h1v1h-1zM738,554h1v1h-1zM736,555h2v1h-2zM736,556h1v1h-1zM738,556h1v1h-1zM736,557h1v1h-1zM739,557h1v1h-1zM736,558h1v1h-1zM740,558h1v1h-1zM736,559h1v1h-1zM741,559h1v1h-1zM745,550h4v1h-4zM745,551h1v1h-1zM749,551h1v1h-1zM745,552h1v1h-1zM749,552h1v1h-1zM745,553h1v1h-1zM749,553h1v1h-1zM745,554h4v1h-4zM745,555h1v1h-1zM749,555h1v1h-1zM745,556h1v1h-1zM749,556h1v1h-1zM745,557h1v1h-1zM749,557h1v1h-1zM745,558h1v1h-1zM749,558h1v1h-1zM745,559h4v1h-4zM754,550h4v1h-4zM754,551h1v1h-1zM758,551h1v1h-1zM754,552h1v1h-1zM759,552h1v1h-1zM754,553h1v1h-1zM759,553h1v1h-1zM754,554h1v1h-1zM759,554h1v1h-1zM754,555h1v1h-1zM759,555h1v1h-1zM754,556h1v1h-1zM759,556h1v1h-1zM754,557h1v1h-1zM759,557h1v1h-1zM754,558h1v1h-1zM758,558h1v1h-1zM754,559h4v1h-4z"/>
</svg>
</body></html>
